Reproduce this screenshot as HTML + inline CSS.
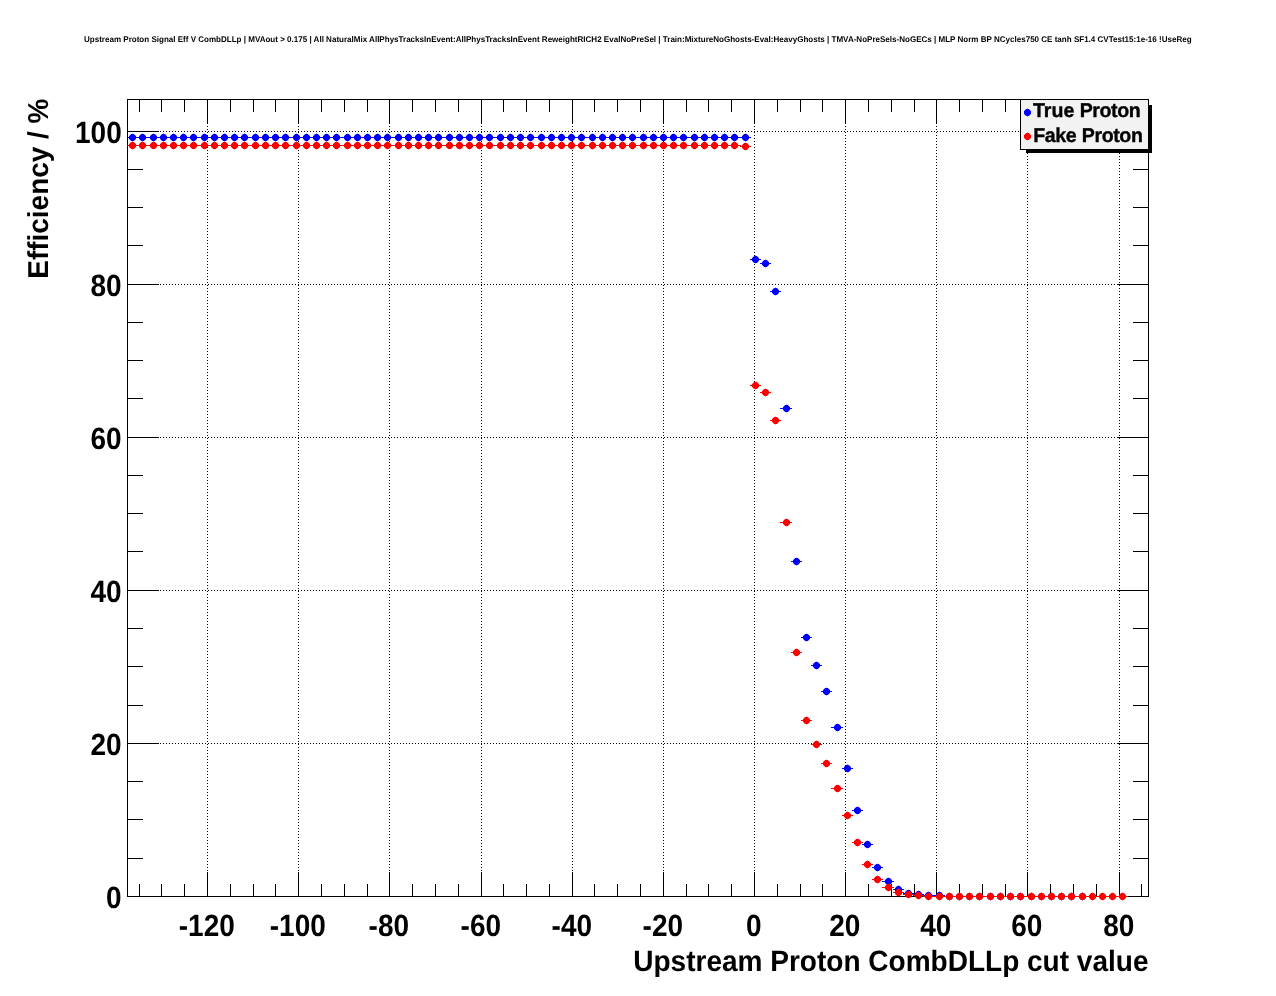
<!DOCTYPE html>
<html lang="en"><head><meta charset="utf-8"><title>Upstream Proton Signal Eff V CombDLLp</title>
<style>html,body{margin:0;padding:0;background:#fff;}body{width:1276px;height:996px;overflow:hidden;}svg{display:block;}text{font-family:"Liberation Sans",Arial,Helvetica,sans-serif;font-weight:bold;fill:#000;text-rendering:geometricPrecision;}</style></head><body>
<svg width="1276" height="996" viewBox="0 0 1276 996">
<rect width="1276" height="996" fill="#fff"/>
<g shape-rendering="crispEdges" stroke="#000" stroke-width="1" stroke-dasharray="1 2" fill="none">
<line x1="207.5" y1="99" x2="207.5" y2="896"/>
<line x1="298.5" y1="99" x2="298.5" y2="896"/>
<line x1="389.5" y1="99" x2="389.5" y2="896"/>
<line x1="481.5" y1="99" x2="481.5" y2="896"/>
<line x1="572.5" y1="99" x2="572.5" y2="896"/>
<line x1="663.5" y1="99" x2="663.5" y2="896"/>
<line x1="754.5" y1="99" x2="754.5" y2="896"/>
<line x1="845.5" y1="99" x2="845.5" y2="896"/>
<line x1="936.5" y1="99" x2="936.5" y2="896"/>
<line x1="1027.5" y1="99" x2="1027.5" y2="896"/>
<line x1="1119.5" y1="99" x2="1119.5" y2="896"/>
<line x1="127" y1="743.5" x2="1149" y2="743.5"/>
<line x1="127" y1="590.5" x2="1149" y2="590.5"/>
<line x1="127" y1="437.5" x2="1149" y2="437.5"/>
<line x1="127" y1="284.5" x2="1149" y2="284.5"/>
<line x1="127" y1="131.5" x2="1149" y2="131.5"/>
</g>
<g shape-rendering="crispEdges" fill="#000">
<rect x="127" y="99" width="1022" height="1" fill="#000"/>
<rect x="127" y="896" width="1022" height="1" fill="#000"/>
<rect x="127" y="99" width="1" height="798" fill="#000"/>
<rect x="1148" y="99" width="1" height="798" fill="#000"/>
<rect x="139" y="884" width="1" height="12" fill="#000"/>
<rect x="139" y="100" width="1" height="12" fill="#000"/>
<rect x="161" y="884" width="1" height="12" fill="#000"/>
<rect x="161" y="100" width="1" height="12" fill="#000"/>
<rect x="184" y="884" width="1" height="12" fill="#000"/>
<rect x="184" y="100" width="1" height="12" fill="#000"/>
<rect x="207" y="872" width="1" height="24" fill="#000"/>
<rect x="207" y="100" width="1" height="24" fill="#000"/>
<rect x="230" y="884" width="1" height="12" fill="#000"/>
<rect x="230" y="100" width="1" height="12" fill="#000"/>
<rect x="253" y="884" width="1" height="12" fill="#000"/>
<rect x="253" y="100" width="1" height="12" fill="#000"/>
<rect x="275" y="884" width="1" height="12" fill="#000"/>
<rect x="275" y="100" width="1" height="12" fill="#000"/>
<rect x="298" y="872" width="1" height="24" fill="#000"/>
<rect x="298" y="100" width="1" height="24" fill="#000"/>
<rect x="321" y="884" width="1" height="12" fill="#000"/>
<rect x="321" y="100" width="1" height="12" fill="#000"/>
<rect x="344" y="884" width="1" height="12" fill="#000"/>
<rect x="344" y="100" width="1" height="12" fill="#000"/>
<rect x="367" y="884" width="1" height="12" fill="#000"/>
<rect x="367" y="100" width="1" height="12" fill="#000"/>
<rect x="389" y="872" width="1" height="24" fill="#000"/>
<rect x="389" y="100" width="1" height="24" fill="#000"/>
<rect x="412" y="884" width="1" height="12" fill="#000"/>
<rect x="412" y="100" width="1" height="12" fill="#000"/>
<rect x="435" y="884" width="1" height="12" fill="#000"/>
<rect x="435" y="100" width="1" height="12" fill="#000"/>
<rect x="458" y="884" width="1" height="12" fill="#000"/>
<rect x="458" y="100" width="1" height="12" fill="#000"/>
<rect x="481" y="872" width="1" height="24" fill="#000"/>
<rect x="481" y="100" width="1" height="24" fill="#000"/>
<rect x="503" y="884" width="1" height="12" fill="#000"/>
<rect x="503" y="100" width="1" height="12" fill="#000"/>
<rect x="526" y="884" width="1" height="12" fill="#000"/>
<rect x="526" y="100" width="1" height="12" fill="#000"/>
<rect x="549" y="884" width="1" height="12" fill="#000"/>
<rect x="549" y="100" width="1" height="12" fill="#000"/>
<rect x="572" y="872" width="1" height="24" fill="#000"/>
<rect x="572" y="100" width="1" height="24" fill="#000"/>
<rect x="594" y="884" width="1" height="12" fill="#000"/>
<rect x="594" y="100" width="1" height="12" fill="#000"/>
<rect x="617" y="884" width="1" height="12" fill="#000"/>
<rect x="617" y="100" width="1" height="12" fill="#000"/>
<rect x="640" y="884" width="1" height="12" fill="#000"/>
<rect x="640" y="100" width="1" height="12" fill="#000"/>
<rect x="663" y="872" width="1" height="24" fill="#000"/>
<rect x="663" y="100" width="1" height="24" fill="#000"/>
<rect x="686" y="884" width="1" height="12" fill="#000"/>
<rect x="686" y="100" width="1" height="12" fill="#000"/>
<rect x="708" y="884" width="1" height="12" fill="#000"/>
<rect x="708" y="100" width="1" height="12" fill="#000"/>
<rect x="731" y="884" width="1" height="12" fill="#000"/>
<rect x="731" y="100" width="1" height="12" fill="#000"/>
<rect x="754" y="872" width="1" height="24" fill="#000"/>
<rect x="754" y="100" width="1" height="24" fill="#000"/>
<rect x="777" y="884" width="1" height="12" fill="#000"/>
<rect x="777" y="100" width="1" height="12" fill="#000"/>
<rect x="800" y="884" width="1" height="12" fill="#000"/>
<rect x="800" y="100" width="1" height="12" fill="#000"/>
<rect x="822" y="884" width="1" height="12" fill="#000"/>
<rect x="822" y="100" width="1" height="12" fill="#000"/>
<rect x="845" y="872" width="1" height="24" fill="#000"/>
<rect x="845" y="100" width="1" height="24" fill="#000"/>
<rect x="868" y="884" width="1" height="12" fill="#000"/>
<rect x="868" y="100" width="1" height="12" fill="#000"/>
<rect x="891" y="884" width="1" height="12" fill="#000"/>
<rect x="891" y="100" width="1" height="12" fill="#000"/>
<rect x="914" y="884" width="1" height="12" fill="#000"/>
<rect x="914" y="100" width="1" height="12" fill="#000"/>
<rect x="936" y="872" width="1" height="24" fill="#000"/>
<rect x="936" y="100" width="1" height="24" fill="#000"/>
<rect x="959" y="884" width="1" height="12" fill="#000"/>
<rect x="959" y="100" width="1" height="12" fill="#000"/>
<rect x="982" y="884" width="1" height="12" fill="#000"/>
<rect x="982" y="100" width="1" height="12" fill="#000"/>
<rect x="1005" y="884" width="1" height="12" fill="#000"/>
<rect x="1005" y="100" width="1" height="12" fill="#000"/>
<rect x="1027" y="872" width="1" height="24" fill="#000"/>
<rect x="1027" y="100" width="1" height="24" fill="#000"/>
<rect x="1050" y="884" width="1" height="12" fill="#000"/>
<rect x="1050" y="100" width="1" height="12" fill="#000"/>
<rect x="1073" y="884" width="1" height="12" fill="#000"/>
<rect x="1073" y="100" width="1" height="12" fill="#000"/>
<rect x="1096" y="884" width="1" height="12" fill="#000"/>
<rect x="1096" y="100" width="1" height="12" fill="#000"/>
<rect x="1119" y="872" width="1" height="24" fill="#000"/>
<rect x="1119" y="100" width="1" height="24" fill="#000"/>
<rect x="1141" y="884" width="1" height="12" fill="#000"/>
<rect x="1141" y="100" width="1" height="12" fill="#000"/>
<rect x="128" y="858" width="15" height="1" fill="#000"/>
<rect x="1133" y="858" width="15" height="1" fill="#000"/>
<rect x="128" y="819" width="15" height="1" fill="#000"/>
<rect x="1133" y="819" width="15" height="1" fill="#000"/>
<rect x="128" y="781" width="15" height="1" fill="#000"/>
<rect x="1133" y="781" width="15" height="1" fill="#000"/>
<rect x="128" y="743" width="31" height="1" fill="#000"/>
<rect x="1117" y="743" width="31" height="1" fill="#000"/>
<rect x="128" y="705" width="15" height="1" fill="#000"/>
<rect x="1133" y="705" width="15" height="1" fill="#000"/>
<rect x="128" y="666" width="15" height="1" fill="#000"/>
<rect x="1133" y="666" width="15" height="1" fill="#000"/>
<rect x="128" y="628" width="15" height="1" fill="#000"/>
<rect x="1133" y="628" width="15" height="1" fill="#000"/>
<rect x="128" y="590" width="31" height="1" fill="#000"/>
<rect x="1117" y="590" width="31" height="1" fill="#000"/>
<rect x="128" y="551" width="15" height="1" fill="#000"/>
<rect x="1133" y="551" width="15" height="1" fill="#000"/>
<rect x="128" y="513" width="15" height="1" fill="#000"/>
<rect x="1133" y="513" width="15" height="1" fill="#000"/>
<rect x="128" y="475" width="15" height="1" fill="#000"/>
<rect x="1133" y="475" width="15" height="1" fill="#000"/>
<rect x="128" y="437" width="31" height="1" fill="#000"/>
<rect x="1117" y="437" width="31" height="1" fill="#000"/>
<rect x="128" y="398" width="15" height="1" fill="#000"/>
<rect x="1133" y="398" width="15" height="1" fill="#000"/>
<rect x="128" y="360" width="15" height="1" fill="#000"/>
<rect x="1133" y="360" width="15" height="1" fill="#000"/>
<rect x="128" y="322" width="15" height="1" fill="#000"/>
<rect x="1133" y="322" width="15" height="1" fill="#000"/>
<rect x="128" y="284" width="31" height="1" fill="#000"/>
<rect x="1117" y="284" width="31" height="1" fill="#000"/>
<rect x="128" y="245" width="15" height="1" fill="#000"/>
<rect x="1133" y="245" width="15" height="1" fill="#000"/>
<rect x="128" y="207" width="15" height="1" fill="#000"/>
<rect x="1133" y="207" width="15" height="1" fill="#000"/>
<rect x="128" y="169" width="15" height="1" fill="#000"/>
<rect x="1133" y="169" width="15" height="1" fill="#000"/>
<rect x="128" y="131" width="31" height="1" fill="#000"/>
<rect x="1117" y="131" width="31" height="1" fill="#000"/>
</g>
<g fill="#0000ff">
<g shape-rendering="crispEdges">
<rect x="128" y="137" width="623" height="1" fill="#0000ff"/>
<rect x="750" y="259" width="11" height="1" fill="#0000ff"/>
<rect x="760" y="263" width="11" height="1" fill="#0000ff"/>
<rect x="770" y="291" width="11" height="1" fill="#0000ff"/>
<rect x="780" y="408" width="12" height="1" fill="#0000ff"/>
<rect x="791" y="561" width="11" height="1" fill="#0000ff"/>
<rect x="801" y="637" width="11" height="1" fill="#0000ff"/>
<rect x="811" y="665" width="11" height="1" fill="#0000ff"/>
<rect x="821" y="691" width="11" height="1" fill="#0000ff"/>
<rect x="831" y="727" width="12" height="1" fill="#0000ff"/>
<rect x="842" y="768" width="11" height="1" fill="#0000ff"/>
<rect x="852" y="810" width="11" height="1" fill="#0000ff"/>
<rect x="862" y="844" width="11" height="1" fill="#0000ff"/>
<rect x="872" y="867" width="11" height="1" fill="#0000ff"/>
<rect x="882" y="881" width="12" height="1" fill="#0000ff"/>
<rect x="893" y="889" width="11" height="1" fill="#0000ff"/>
<rect x="903" y="893" width="11" height="1" fill="#0000ff"/>
<rect x="913" y="894" width="11" height="1" fill="#0000ff"/>
<rect x="923" y="895" width="22" height="1" fill="#0000ff"/>
<rect x="944" y="896" width="144" height="1" fill="#0000ff"/>
</g>
<g shape-rendering="crispEdges" fill="#0000ff"><path d="M131 134h3v1h1v1h1v3h-1v1h-1v1h-3v-1h-1v-1h-1v-3h1v-1h1zM141 134h3v1h1v1h1v3h-1v1h-1v1h-3v-1h-1v-1h-1v-3h1v-1h1zM152 134h3v1h1v1h1v3h-1v1h-1v1h-3v-1h-1v-1h-1v-3h1v-1h1zM162 134h3v1h1v1h1v3h-1v1h-1v1h-3v-1h-1v-1h-1v-3h1v-1h1zM172 134h3v1h1v1h1v3h-1v1h-1v1h-3v-1h-1v-1h-1v-3h1v-1h1zM182 134h3v1h1v1h1v3h-1v1h-1v1h-3v-1h-1v-1h-1v-3h1v-1h1zM192 134h3v1h1v1h1v3h-1v1h-1v1h-3v-1h-1v-1h-1v-3h1v-1h1zM203 134h3v1h1v1h1v3h-1v1h-1v1h-3v-1h-1v-1h-1v-3h1v-1h1zM213 134h3v1h1v1h1v3h-1v1h-1v1h-3v-1h-1v-1h-1v-3h1v-1h1zM223 134h3v1h1v1h1v3h-1v1h-1v1h-3v-1h-1v-1h-1v-3h1v-1h1zM233 134h3v1h1v1h1v3h-1v1h-1v1h-3v-1h-1v-1h-1v-3h1v-1h1zM243 134h3v1h1v1h1v3h-1v1h-1v1h-3v-1h-1v-1h-1v-3h1v-1h1zM254 134h3v1h1v1h1v3h-1v1h-1v1h-3v-1h-1v-1h-1v-3h1v-1h1zM264 134h3v1h1v1h1v3h-1v1h-1v1h-3v-1h-1v-1h-1v-3h1v-1h1zM274 134h3v1h1v1h1v3h-1v1h-1v1h-3v-1h-1v-1h-1v-3h1v-1h1zM284 134h3v1h1v1h1v3h-1v1h-1v1h-3v-1h-1v-1h-1v-3h1v-1h1zM295 134h3v1h1v1h1v3h-1v1h-1v1h-3v-1h-1v-1h-1v-3h1v-1h1zM305 134h3v1h1v1h1v3h-1v1h-1v1h-3v-1h-1v-1h-1v-3h1v-1h1zM315 134h3v1h1v1h1v3h-1v1h-1v1h-3v-1h-1v-1h-1v-3h1v-1h1zM325 134h3v1h1v1h1v3h-1v1h-1v1h-3v-1h-1v-1h-1v-3h1v-1h1zM335 134h3v1h1v1h1v3h-1v1h-1v1h-3v-1h-1v-1h-1v-3h1v-1h1zM346 134h3v1h1v1h1v3h-1v1h-1v1h-3v-1h-1v-1h-1v-3h1v-1h1zM356 134h3v1h1v1h1v3h-1v1h-1v1h-3v-1h-1v-1h-1v-3h1v-1h1zM366 134h3v1h1v1h1v3h-1v1h-1v1h-3v-1h-1v-1h-1v-3h1v-1h1zM376 134h3v1h1v1h1v3h-1v1h-1v1h-3v-1h-1v-1h-1v-3h1v-1h1zM386 134h3v1h1v1h1v3h-1v1h-1v1h-3v-1h-1v-1h-1v-3h1v-1h1zM397 134h3v1h1v1h1v3h-1v1h-1v1h-3v-1h-1v-1h-1v-3h1v-1h1zM407 134h3v1h1v1h1v3h-1v1h-1v1h-3v-1h-1v-1h-1v-3h1v-1h1zM417 134h3v1h1v1h1v3h-1v1h-1v1h-3v-1h-1v-1h-1v-3h1v-1h1zM427 134h3v1h1v1h1v3h-1v1h-1v1h-3v-1h-1v-1h-1v-3h1v-1h1zM437 134h3v1h1v1h1v3h-1v1h-1v1h-3v-1h-1v-1h-1v-3h1v-1h1zM448 134h3v1h1v1h1v3h-1v1h-1v1h-3v-1h-1v-1h-1v-3h1v-1h1zM458 134h3v1h1v1h1v3h-1v1h-1v1h-3v-1h-1v-1h-1v-3h1v-1h1zM468 134h3v1h1v1h1v3h-1v1h-1v1h-3v-1h-1v-1h-1v-3h1v-1h1zM478 134h3v1h1v1h1v3h-1v1h-1v1h-3v-1h-1v-1h-1v-3h1v-1h1zM488 134h3v1h1v1h1v3h-1v1h-1v1h-3v-1h-1v-1h-1v-3h1v-1h1zM499 134h3v1h1v1h1v3h-1v1h-1v1h-3v-1h-1v-1h-1v-3h1v-1h1zM509 134h3v1h1v1h1v3h-1v1h-1v1h-3v-1h-1v-1h-1v-3h1v-1h1zM519 134h3v1h1v1h1v3h-1v1h-1v1h-3v-1h-1v-1h-1v-3h1v-1h1zM529 134h3v1h1v1h1v3h-1v1h-1v1h-3v-1h-1v-1h-1v-3h1v-1h1zM540 134h3v1h1v1h1v3h-1v1h-1v1h-3v-1h-1v-1h-1v-3h1v-1h1zM550 134h3v1h1v1h1v3h-1v1h-1v1h-3v-1h-1v-1h-1v-3h1v-1h1zM560 134h3v1h1v1h1v3h-1v1h-1v1h-3v-1h-1v-1h-1v-3h1v-1h1zM570 134h3v1h1v1h1v3h-1v1h-1v1h-3v-1h-1v-1h-1v-3h1v-1h1zM580 134h3v1h1v1h1v3h-1v1h-1v1h-3v-1h-1v-1h-1v-3h1v-1h1zM591 134h3v1h1v1h1v3h-1v1h-1v1h-3v-1h-1v-1h-1v-3h1v-1h1zM601 134h3v1h1v1h1v3h-1v1h-1v1h-3v-1h-1v-1h-1v-3h1v-1h1zM611 134h3v1h1v1h1v3h-1v1h-1v1h-3v-1h-1v-1h-1v-3h1v-1h1zM621 134h3v1h1v1h1v3h-1v1h-1v1h-3v-1h-1v-1h-1v-3h1v-1h1zM631 134h3v1h1v1h1v3h-1v1h-1v1h-3v-1h-1v-1h-1v-3h1v-1h1zM642 134h3v1h1v1h1v3h-1v1h-1v1h-3v-1h-1v-1h-1v-3h1v-1h1zM652 134h3v1h1v1h1v3h-1v1h-1v1h-3v-1h-1v-1h-1v-3h1v-1h1zM662 134h3v1h1v1h1v3h-1v1h-1v1h-3v-1h-1v-1h-1v-3h1v-1h1zM672 134h3v1h1v1h1v3h-1v1h-1v1h-3v-1h-1v-1h-1v-3h1v-1h1zM682 134h3v1h1v1h1v3h-1v1h-1v1h-3v-1h-1v-1h-1v-3h1v-1h1zM693 134h3v1h1v1h1v3h-1v1h-1v1h-3v-1h-1v-1h-1v-3h1v-1h1zM703 134h3v1h1v1h1v3h-1v1h-1v1h-3v-1h-1v-1h-1v-3h1v-1h1zM713 134h3v1h1v1h1v3h-1v1h-1v1h-3v-1h-1v-1h-1v-3h1v-1h1zM723 134h3v1h1v1h1v3h-1v1h-1v1h-3v-1h-1v-1h-1v-3h1v-1h1zM733 134h3v1h1v1h1v3h-1v1h-1v1h-3v-1h-1v-1h-1v-3h1v-1h1zM744 134h3v1h1v1h1v3h-1v1h-1v1h-3v-1h-1v-1h-1v-3h1v-1h1zM754 256h3v1h1v1h1v3h-1v1h-1v1h-3v-1h-1v-1h-1v-3h1v-1h1zM764 260h3v1h1v1h1v3h-1v1h-1v1h-3v-1h-1v-1h-1v-3h1v-1h1zM774 288h3v1h1v1h1v3h-1v1h-1v1h-3v-1h-1v-1h-1v-3h1v-1h1zM785 405h3v1h1v1h1v3h-1v1h-1v1h-3v-1h-1v-1h-1v-3h1v-1h1zM795 558h3v1h1v1h1v3h-1v1h-1v1h-3v-1h-1v-1h-1v-3h1v-1h1zM805 634h3v1h1v1h1v3h-1v1h-1v1h-3v-1h-1v-1h-1v-3h1v-1h1zM815 662h3v1h1v1h1v3h-1v1h-1v1h-3v-1h-1v-1h-1v-3h1v-1h1zM825 688h3v1h1v1h1v3h-1v1h-1v1h-3v-1h-1v-1h-1v-3h1v-1h1zM836 724h3v1h1v1h1v3h-1v1h-1v1h-3v-1h-1v-1h-1v-3h1v-1h1zM846 765h3v1h1v1h1v3h-1v1h-1v1h-3v-1h-1v-1h-1v-3h1v-1h1zM856 807h3v1h1v1h1v3h-1v1h-1v1h-3v-1h-1v-1h-1v-3h1v-1h1zM866 841h3v1h1v1h1v3h-1v1h-1v1h-3v-1h-1v-1h-1v-3h1v-1h1zM876 864h3v1h1v1h1v3h-1v1h-1v1h-3v-1h-1v-1h-1v-3h1v-1h1zM887 878h3v1h1v1h1v3h-1v1h-1v1h-3v-1h-1v-1h-1v-3h1v-1h1zM897 886h3v1h1v1h1v3h-1v1h-1v1h-3v-1h-1v-1h-1v-3h1v-1h1zM907 890h3v1h1v1h1v3h-1v1h-1v1h-3v-1h-1v-1h-1v-3h1v-1h1zM917 891h3v1h1v1h1v3h-1v1h-1v1h-3v-1h-1v-1h-1v-3h1v-1h1zM927 892h3v1h1v1h1v3h-1v1h-1v1h-3v-1h-1v-1h-1v-3h1v-1h1zM938 892h3v1h1v1h1v3h-1v1h-1v1h-3v-1h-1v-1h-1v-3h1v-1h1zM948 893h3v1h1v1h1v3h-1v1h-1v1h-3v-1h-1v-1h-1v-3h1v-1h1zM958 893h3v1h1v1h1v3h-1v1h-1v1h-3v-1h-1v-1h-1v-3h1v-1h1zM968 893h3v1h1v1h1v3h-1v1h-1v1h-3v-1h-1v-1h-1v-3h1v-1h1zM978 893h3v1h1v1h1v3h-1v1h-1v1h-3v-1h-1v-1h-1v-3h1v-1h1zM989 893h3v1h1v1h1v3h-1v1h-1v1h-3v-1h-1v-1h-1v-3h1v-1h1zM999 893h3v1h1v1h1v3h-1v1h-1v1h-3v-1h-1v-1h-1v-3h1v-1h1zM1009 893h3v1h1v1h1v3h-1v1h-1v1h-3v-1h-1v-1h-1v-3h1v-1h1zM1019 893h3v1h1v1h1v3h-1v1h-1v1h-3v-1h-1v-1h-1v-3h1v-1h1zM1030 893h3v1h1v1h1v3h-1v1h-1v1h-3v-1h-1v-1h-1v-3h1v-1h1zM1040 893h3v1h1v1h1v3h-1v1h-1v1h-3v-1h-1v-1h-1v-3h1v-1h1zM1050 893h3v1h1v1h1v3h-1v1h-1v1h-3v-1h-1v-1h-1v-3h1v-1h1zM1060 893h3v1h1v1h1v3h-1v1h-1v1h-3v-1h-1v-1h-1v-3h1v-1h1zM1070 893h3v1h1v1h1v3h-1v1h-1v1h-3v-1h-1v-1h-1v-3h1v-1h1zM1081 893h3v1h1v1h1v3h-1v1h-1v1h-3v-1h-1v-1h-1v-3h1v-1h1z"/><path fill-opacity="0.36" d="M134 134h1v1h-1zM135 135h1v1h-1zM130 134h1v1h-1zM129 135h1v1h-1zM134 140h1v1h-1zM135 139h1v1h-1zM130 140h1v1h-1zM129 139h1v1h-1zM144 134h1v1h-1zM145 135h1v1h-1zM140 134h1v1h-1zM139 135h1v1h-1zM144 140h1v1h-1zM145 139h1v1h-1zM140 140h1v1h-1zM139 139h1v1h-1zM155 134h1v1h-1zM156 135h1v1h-1zM151 134h1v1h-1zM150 135h1v1h-1zM155 140h1v1h-1zM156 139h1v1h-1zM151 140h1v1h-1zM150 139h1v1h-1zM165 134h1v1h-1zM166 135h1v1h-1zM161 134h1v1h-1zM160 135h1v1h-1zM165 140h1v1h-1zM166 139h1v1h-1zM161 140h1v1h-1zM160 139h1v1h-1zM175 134h1v1h-1zM176 135h1v1h-1zM171 134h1v1h-1zM170 135h1v1h-1zM175 140h1v1h-1zM176 139h1v1h-1zM171 140h1v1h-1zM170 139h1v1h-1zM185 134h1v1h-1zM186 135h1v1h-1zM181 134h1v1h-1zM180 135h1v1h-1zM185 140h1v1h-1zM186 139h1v1h-1zM181 140h1v1h-1zM180 139h1v1h-1zM195 134h1v1h-1zM196 135h1v1h-1zM191 134h1v1h-1zM190 135h1v1h-1zM195 140h1v1h-1zM196 139h1v1h-1zM191 140h1v1h-1zM190 139h1v1h-1zM206 134h1v1h-1zM207 135h1v1h-1zM202 134h1v1h-1zM201 135h1v1h-1zM206 140h1v1h-1zM207 139h1v1h-1zM202 140h1v1h-1zM201 139h1v1h-1zM216 134h1v1h-1zM217 135h1v1h-1zM212 134h1v1h-1zM211 135h1v1h-1zM216 140h1v1h-1zM217 139h1v1h-1zM212 140h1v1h-1zM211 139h1v1h-1zM226 134h1v1h-1zM227 135h1v1h-1zM222 134h1v1h-1zM221 135h1v1h-1zM226 140h1v1h-1zM227 139h1v1h-1zM222 140h1v1h-1zM221 139h1v1h-1zM236 134h1v1h-1zM237 135h1v1h-1zM232 134h1v1h-1zM231 135h1v1h-1zM236 140h1v1h-1zM237 139h1v1h-1zM232 140h1v1h-1zM231 139h1v1h-1zM246 134h1v1h-1zM247 135h1v1h-1zM242 134h1v1h-1zM241 135h1v1h-1zM246 140h1v1h-1zM247 139h1v1h-1zM242 140h1v1h-1zM241 139h1v1h-1zM257 134h1v1h-1zM258 135h1v1h-1zM253 134h1v1h-1zM252 135h1v1h-1zM257 140h1v1h-1zM258 139h1v1h-1zM253 140h1v1h-1zM252 139h1v1h-1zM267 134h1v1h-1zM268 135h1v1h-1zM263 134h1v1h-1zM262 135h1v1h-1zM267 140h1v1h-1zM268 139h1v1h-1zM263 140h1v1h-1zM262 139h1v1h-1zM277 134h1v1h-1zM278 135h1v1h-1zM273 134h1v1h-1zM272 135h1v1h-1zM277 140h1v1h-1zM278 139h1v1h-1zM273 140h1v1h-1zM272 139h1v1h-1zM287 134h1v1h-1zM288 135h1v1h-1zM283 134h1v1h-1zM282 135h1v1h-1zM287 140h1v1h-1zM288 139h1v1h-1zM283 140h1v1h-1zM282 139h1v1h-1zM298 134h1v1h-1zM299 135h1v1h-1zM294 134h1v1h-1zM293 135h1v1h-1zM298 140h1v1h-1zM299 139h1v1h-1zM294 140h1v1h-1zM293 139h1v1h-1zM308 134h1v1h-1zM309 135h1v1h-1zM304 134h1v1h-1zM303 135h1v1h-1zM308 140h1v1h-1zM309 139h1v1h-1zM304 140h1v1h-1zM303 139h1v1h-1zM318 134h1v1h-1zM319 135h1v1h-1zM314 134h1v1h-1zM313 135h1v1h-1zM318 140h1v1h-1zM319 139h1v1h-1zM314 140h1v1h-1zM313 139h1v1h-1zM328 134h1v1h-1zM329 135h1v1h-1zM324 134h1v1h-1zM323 135h1v1h-1zM328 140h1v1h-1zM329 139h1v1h-1zM324 140h1v1h-1zM323 139h1v1h-1zM338 134h1v1h-1zM339 135h1v1h-1zM334 134h1v1h-1zM333 135h1v1h-1zM338 140h1v1h-1zM339 139h1v1h-1zM334 140h1v1h-1zM333 139h1v1h-1zM349 134h1v1h-1zM350 135h1v1h-1zM345 134h1v1h-1zM344 135h1v1h-1zM349 140h1v1h-1zM350 139h1v1h-1zM345 140h1v1h-1zM344 139h1v1h-1zM359 134h1v1h-1zM360 135h1v1h-1zM355 134h1v1h-1zM354 135h1v1h-1zM359 140h1v1h-1zM360 139h1v1h-1zM355 140h1v1h-1zM354 139h1v1h-1zM369 134h1v1h-1zM370 135h1v1h-1zM365 134h1v1h-1zM364 135h1v1h-1zM369 140h1v1h-1zM370 139h1v1h-1zM365 140h1v1h-1zM364 139h1v1h-1zM379 134h1v1h-1zM380 135h1v1h-1zM375 134h1v1h-1zM374 135h1v1h-1zM379 140h1v1h-1zM380 139h1v1h-1zM375 140h1v1h-1zM374 139h1v1h-1zM389 134h1v1h-1zM390 135h1v1h-1zM385 134h1v1h-1zM384 135h1v1h-1zM389 140h1v1h-1zM390 139h1v1h-1zM385 140h1v1h-1zM384 139h1v1h-1zM400 134h1v1h-1zM401 135h1v1h-1zM396 134h1v1h-1zM395 135h1v1h-1zM400 140h1v1h-1zM401 139h1v1h-1zM396 140h1v1h-1zM395 139h1v1h-1zM410 134h1v1h-1zM411 135h1v1h-1zM406 134h1v1h-1zM405 135h1v1h-1zM410 140h1v1h-1zM411 139h1v1h-1zM406 140h1v1h-1zM405 139h1v1h-1zM420 134h1v1h-1zM421 135h1v1h-1zM416 134h1v1h-1zM415 135h1v1h-1zM420 140h1v1h-1zM421 139h1v1h-1zM416 140h1v1h-1zM415 139h1v1h-1zM430 134h1v1h-1zM431 135h1v1h-1zM426 134h1v1h-1zM425 135h1v1h-1zM430 140h1v1h-1zM431 139h1v1h-1zM426 140h1v1h-1zM425 139h1v1h-1zM440 134h1v1h-1zM441 135h1v1h-1zM436 134h1v1h-1zM435 135h1v1h-1zM440 140h1v1h-1zM441 139h1v1h-1zM436 140h1v1h-1zM435 139h1v1h-1zM451 134h1v1h-1zM452 135h1v1h-1zM447 134h1v1h-1zM446 135h1v1h-1zM451 140h1v1h-1zM452 139h1v1h-1zM447 140h1v1h-1zM446 139h1v1h-1zM461 134h1v1h-1zM462 135h1v1h-1zM457 134h1v1h-1zM456 135h1v1h-1zM461 140h1v1h-1zM462 139h1v1h-1zM457 140h1v1h-1zM456 139h1v1h-1zM471 134h1v1h-1zM472 135h1v1h-1zM467 134h1v1h-1zM466 135h1v1h-1zM471 140h1v1h-1zM472 139h1v1h-1zM467 140h1v1h-1zM466 139h1v1h-1zM481 134h1v1h-1zM482 135h1v1h-1zM477 134h1v1h-1zM476 135h1v1h-1zM481 140h1v1h-1zM482 139h1v1h-1zM477 140h1v1h-1zM476 139h1v1h-1zM491 134h1v1h-1zM492 135h1v1h-1zM487 134h1v1h-1zM486 135h1v1h-1zM491 140h1v1h-1zM492 139h1v1h-1zM487 140h1v1h-1zM486 139h1v1h-1zM502 134h1v1h-1zM503 135h1v1h-1zM498 134h1v1h-1zM497 135h1v1h-1zM502 140h1v1h-1zM503 139h1v1h-1zM498 140h1v1h-1zM497 139h1v1h-1zM512 134h1v1h-1zM513 135h1v1h-1zM508 134h1v1h-1zM507 135h1v1h-1zM512 140h1v1h-1zM513 139h1v1h-1zM508 140h1v1h-1zM507 139h1v1h-1zM522 134h1v1h-1zM523 135h1v1h-1zM518 134h1v1h-1zM517 135h1v1h-1zM522 140h1v1h-1zM523 139h1v1h-1zM518 140h1v1h-1zM517 139h1v1h-1zM532 134h1v1h-1zM533 135h1v1h-1zM528 134h1v1h-1zM527 135h1v1h-1zM532 140h1v1h-1zM533 139h1v1h-1zM528 140h1v1h-1zM527 139h1v1h-1zM543 134h1v1h-1zM544 135h1v1h-1zM539 134h1v1h-1zM538 135h1v1h-1zM543 140h1v1h-1zM544 139h1v1h-1zM539 140h1v1h-1zM538 139h1v1h-1zM553 134h1v1h-1zM554 135h1v1h-1zM549 134h1v1h-1zM548 135h1v1h-1zM553 140h1v1h-1zM554 139h1v1h-1zM549 140h1v1h-1zM548 139h1v1h-1zM563 134h1v1h-1zM564 135h1v1h-1zM559 134h1v1h-1zM558 135h1v1h-1zM563 140h1v1h-1zM564 139h1v1h-1zM559 140h1v1h-1zM558 139h1v1h-1zM573 134h1v1h-1zM574 135h1v1h-1zM569 134h1v1h-1zM568 135h1v1h-1zM573 140h1v1h-1zM574 139h1v1h-1zM569 140h1v1h-1zM568 139h1v1h-1zM583 134h1v1h-1zM584 135h1v1h-1zM579 134h1v1h-1zM578 135h1v1h-1zM583 140h1v1h-1zM584 139h1v1h-1zM579 140h1v1h-1zM578 139h1v1h-1zM594 134h1v1h-1zM595 135h1v1h-1zM590 134h1v1h-1zM589 135h1v1h-1zM594 140h1v1h-1zM595 139h1v1h-1zM590 140h1v1h-1zM589 139h1v1h-1zM604 134h1v1h-1zM605 135h1v1h-1zM600 134h1v1h-1zM599 135h1v1h-1zM604 140h1v1h-1zM605 139h1v1h-1zM600 140h1v1h-1zM599 139h1v1h-1zM614 134h1v1h-1zM615 135h1v1h-1zM610 134h1v1h-1zM609 135h1v1h-1zM614 140h1v1h-1zM615 139h1v1h-1zM610 140h1v1h-1zM609 139h1v1h-1zM624 134h1v1h-1zM625 135h1v1h-1zM620 134h1v1h-1zM619 135h1v1h-1zM624 140h1v1h-1zM625 139h1v1h-1zM620 140h1v1h-1zM619 139h1v1h-1zM634 134h1v1h-1zM635 135h1v1h-1zM630 134h1v1h-1zM629 135h1v1h-1zM634 140h1v1h-1zM635 139h1v1h-1zM630 140h1v1h-1zM629 139h1v1h-1zM645 134h1v1h-1zM646 135h1v1h-1zM641 134h1v1h-1zM640 135h1v1h-1zM645 140h1v1h-1zM646 139h1v1h-1zM641 140h1v1h-1zM640 139h1v1h-1zM655 134h1v1h-1zM656 135h1v1h-1zM651 134h1v1h-1zM650 135h1v1h-1zM655 140h1v1h-1zM656 139h1v1h-1zM651 140h1v1h-1zM650 139h1v1h-1zM665 134h1v1h-1zM666 135h1v1h-1zM661 134h1v1h-1zM660 135h1v1h-1zM665 140h1v1h-1zM666 139h1v1h-1zM661 140h1v1h-1zM660 139h1v1h-1zM675 134h1v1h-1zM676 135h1v1h-1zM671 134h1v1h-1zM670 135h1v1h-1zM675 140h1v1h-1zM676 139h1v1h-1zM671 140h1v1h-1zM670 139h1v1h-1zM685 134h1v1h-1zM686 135h1v1h-1zM681 134h1v1h-1zM680 135h1v1h-1zM685 140h1v1h-1zM686 139h1v1h-1zM681 140h1v1h-1zM680 139h1v1h-1zM696 134h1v1h-1zM697 135h1v1h-1zM692 134h1v1h-1zM691 135h1v1h-1zM696 140h1v1h-1zM697 139h1v1h-1zM692 140h1v1h-1zM691 139h1v1h-1zM706 134h1v1h-1zM707 135h1v1h-1zM702 134h1v1h-1zM701 135h1v1h-1zM706 140h1v1h-1zM707 139h1v1h-1zM702 140h1v1h-1zM701 139h1v1h-1zM716 134h1v1h-1zM717 135h1v1h-1zM712 134h1v1h-1zM711 135h1v1h-1zM716 140h1v1h-1zM717 139h1v1h-1zM712 140h1v1h-1zM711 139h1v1h-1zM726 134h1v1h-1zM727 135h1v1h-1zM722 134h1v1h-1zM721 135h1v1h-1zM726 140h1v1h-1zM727 139h1v1h-1zM722 140h1v1h-1zM721 139h1v1h-1zM736 134h1v1h-1zM737 135h1v1h-1zM732 134h1v1h-1zM731 135h1v1h-1zM736 140h1v1h-1zM737 139h1v1h-1zM732 140h1v1h-1zM731 139h1v1h-1zM747 134h1v1h-1zM748 135h1v1h-1zM743 134h1v1h-1zM742 135h1v1h-1zM747 140h1v1h-1zM748 139h1v1h-1zM743 140h1v1h-1zM742 139h1v1h-1zM757 256h1v1h-1zM758 257h1v1h-1zM753 256h1v1h-1zM752 257h1v1h-1zM757 262h1v1h-1zM758 261h1v1h-1zM753 262h1v1h-1zM752 261h1v1h-1zM767 260h1v1h-1zM768 261h1v1h-1zM763 260h1v1h-1zM762 261h1v1h-1zM767 266h1v1h-1zM768 265h1v1h-1zM763 266h1v1h-1zM762 265h1v1h-1zM777 288h1v1h-1zM778 289h1v1h-1zM773 288h1v1h-1zM772 289h1v1h-1zM777 294h1v1h-1zM778 293h1v1h-1zM773 294h1v1h-1zM772 293h1v1h-1zM788 405h1v1h-1zM789 406h1v1h-1zM784 405h1v1h-1zM783 406h1v1h-1zM788 411h1v1h-1zM789 410h1v1h-1zM784 411h1v1h-1zM783 410h1v1h-1zM798 558h1v1h-1zM799 559h1v1h-1zM794 558h1v1h-1zM793 559h1v1h-1zM798 564h1v1h-1zM799 563h1v1h-1zM794 564h1v1h-1zM793 563h1v1h-1zM808 634h1v1h-1zM809 635h1v1h-1zM804 634h1v1h-1zM803 635h1v1h-1zM808 640h1v1h-1zM809 639h1v1h-1zM804 640h1v1h-1zM803 639h1v1h-1zM818 662h1v1h-1zM819 663h1v1h-1zM814 662h1v1h-1zM813 663h1v1h-1zM818 668h1v1h-1zM819 667h1v1h-1zM814 668h1v1h-1zM813 667h1v1h-1zM828 688h1v1h-1zM829 689h1v1h-1zM824 688h1v1h-1zM823 689h1v1h-1zM828 694h1v1h-1zM829 693h1v1h-1zM824 694h1v1h-1zM823 693h1v1h-1zM839 724h1v1h-1zM840 725h1v1h-1zM835 724h1v1h-1zM834 725h1v1h-1zM839 730h1v1h-1zM840 729h1v1h-1zM835 730h1v1h-1zM834 729h1v1h-1zM849 765h1v1h-1zM850 766h1v1h-1zM845 765h1v1h-1zM844 766h1v1h-1zM849 771h1v1h-1zM850 770h1v1h-1zM845 771h1v1h-1zM844 770h1v1h-1zM859 807h1v1h-1zM860 808h1v1h-1zM855 807h1v1h-1zM854 808h1v1h-1zM859 813h1v1h-1zM860 812h1v1h-1zM855 813h1v1h-1zM854 812h1v1h-1zM869 841h1v1h-1zM870 842h1v1h-1zM865 841h1v1h-1zM864 842h1v1h-1zM869 847h1v1h-1zM870 846h1v1h-1zM865 847h1v1h-1zM864 846h1v1h-1zM879 864h1v1h-1zM880 865h1v1h-1zM875 864h1v1h-1zM874 865h1v1h-1zM879 870h1v1h-1zM880 869h1v1h-1zM875 870h1v1h-1zM874 869h1v1h-1zM890 878h1v1h-1zM891 879h1v1h-1zM886 878h1v1h-1zM885 879h1v1h-1zM890 884h1v1h-1zM891 883h1v1h-1zM886 884h1v1h-1zM885 883h1v1h-1zM900 886h1v1h-1zM901 887h1v1h-1zM896 886h1v1h-1zM895 887h1v1h-1zM900 892h1v1h-1zM901 891h1v1h-1zM896 892h1v1h-1zM895 891h1v1h-1zM910 890h1v1h-1zM911 891h1v1h-1zM906 890h1v1h-1zM905 891h1v1h-1zM910 896h1v1h-1zM911 895h1v1h-1zM906 896h1v1h-1zM905 895h1v1h-1zM920 891h1v1h-1zM921 892h1v1h-1zM916 891h1v1h-1zM915 892h1v1h-1zM920 897h1v1h-1zM921 896h1v1h-1zM916 897h1v1h-1zM915 896h1v1h-1zM930 892h1v1h-1zM931 893h1v1h-1zM926 892h1v1h-1zM925 893h1v1h-1zM930 898h1v1h-1zM931 897h1v1h-1zM926 898h1v1h-1zM925 897h1v1h-1zM941 892h1v1h-1zM942 893h1v1h-1zM937 892h1v1h-1zM936 893h1v1h-1zM941 898h1v1h-1zM942 897h1v1h-1zM937 898h1v1h-1zM936 897h1v1h-1zM951 893h1v1h-1zM952 894h1v1h-1zM947 893h1v1h-1zM946 894h1v1h-1zM951 899h1v1h-1zM952 898h1v1h-1zM947 899h1v1h-1zM946 898h1v1h-1zM961 893h1v1h-1zM962 894h1v1h-1zM957 893h1v1h-1zM956 894h1v1h-1zM961 899h1v1h-1zM962 898h1v1h-1zM957 899h1v1h-1zM956 898h1v1h-1zM971 893h1v1h-1zM972 894h1v1h-1zM967 893h1v1h-1zM966 894h1v1h-1zM971 899h1v1h-1zM972 898h1v1h-1zM967 899h1v1h-1zM966 898h1v1h-1zM981 893h1v1h-1zM982 894h1v1h-1zM977 893h1v1h-1zM976 894h1v1h-1zM981 899h1v1h-1zM982 898h1v1h-1zM977 899h1v1h-1zM976 898h1v1h-1zM992 893h1v1h-1zM993 894h1v1h-1zM988 893h1v1h-1zM987 894h1v1h-1zM992 899h1v1h-1zM993 898h1v1h-1zM988 899h1v1h-1zM987 898h1v1h-1zM1002 893h1v1h-1zM1003 894h1v1h-1zM998 893h1v1h-1zM997 894h1v1h-1zM1002 899h1v1h-1zM1003 898h1v1h-1zM998 899h1v1h-1zM997 898h1v1h-1zM1012 893h1v1h-1zM1013 894h1v1h-1zM1008 893h1v1h-1zM1007 894h1v1h-1zM1012 899h1v1h-1zM1013 898h1v1h-1zM1008 899h1v1h-1zM1007 898h1v1h-1zM1022 893h1v1h-1zM1023 894h1v1h-1zM1018 893h1v1h-1zM1017 894h1v1h-1zM1022 899h1v1h-1zM1023 898h1v1h-1zM1018 899h1v1h-1zM1017 898h1v1h-1zM1033 893h1v1h-1zM1034 894h1v1h-1zM1029 893h1v1h-1zM1028 894h1v1h-1zM1033 899h1v1h-1zM1034 898h1v1h-1zM1029 899h1v1h-1zM1028 898h1v1h-1zM1043 893h1v1h-1zM1044 894h1v1h-1zM1039 893h1v1h-1zM1038 894h1v1h-1zM1043 899h1v1h-1zM1044 898h1v1h-1zM1039 899h1v1h-1zM1038 898h1v1h-1zM1053 893h1v1h-1zM1054 894h1v1h-1zM1049 893h1v1h-1zM1048 894h1v1h-1zM1053 899h1v1h-1zM1054 898h1v1h-1zM1049 899h1v1h-1zM1048 898h1v1h-1zM1063 893h1v1h-1zM1064 894h1v1h-1zM1059 893h1v1h-1zM1058 894h1v1h-1zM1063 899h1v1h-1zM1064 898h1v1h-1zM1059 899h1v1h-1zM1058 898h1v1h-1zM1073 893h1v1h-1zM1074 894h1v1h-1zM1069 893h1v1h-1zM1068 894h1v1h-1zM1073 899h1v1h-1zM1074 898h1v1h-1zM1069 899h1v1h-1zM1068 898h1v1h-1zM1084 893h1v1h-1zM1085 894h1v1h-1zM1080 893h1v1h-1zM1079 894h1v1h-1zM1084 899h1v1h-1zM1085 898h1v1h-1zM1080 899h1v1h-1zM1079 898h1v1h-1z"/><path fill-opacity="0.3" d="M132 133h1v1h-1zM132 141h1v1h-1zM142 133h1v1h-1zM142 141h1v1h-1zM153 133h1v1h-1zM153 141h1v1h-1zM163 133h1v1h-1zM163 141h1v1h-1zM173 133h1v1h-1zM173 141h1v1h-1zM183 133h1v1h-1zM183 141h1v1h-1zM193 133h1v1h-1zM193 141h1v1h-1zM204 133h1v1h-1zM204 141h1v1h-1zM214 133h1v1h-1zM214 141h1v1h-1zM224 133h1v1h-1zM224 141h1v1h-1zM234 133h1v1h-1zM234 141h1v1h-1zM244 133h1v1h-1zM244 141h1v1h-1zM255 133h1v1h-1zM255 141h1v1h-1zM265 133h1v1h-1zM265 141h1v1h-1zM275 133h1v1h-1zM275 141h1v1h-1zM285 133h1v1h-1zM285 141h1v1h-1zM296 133h1v1h-1zM296 141h1v1h-1zM306 133h1v1h-1zM306 141h1v1h-1zM316 133h1v1h-1zM316 141h1v1h-1zM326 133h1v1h-1zM326 141h1v1h-1zM336 133h1v1h-1zM336 141h1v1h-1zM347 133h1v1h-1zM347 141h1v1h-1zM357 133h1v1h-1zM357 141h1v1h-1zM367 133h1v1h-1zM367 141h1v1h-1zM377 133h1v1h-1zM377 141h1v1h-1zM387 133h1v1h-1zM387 141h1v1h-1zM398 133h1v1h-1zM398 141h1v1h-1zM408 133h1v1h-1zM408 141h1v1h-1zM418 133h1v1h-1zM418 141h1v1h-1zM428 133h1v1h-1zM428 141h1v1h-1zM438 133h1v1h-1zM438 141h1v1h-1zM449 133h1v1h-1zM449 141h1v1h-1zM459 133h1v1h-1zM459 141h1v1h-1zM469 133h1v1h-1zM469 141h1v1h-1zM479 133h1v1h-1zM479 141h1v1h-1zM489 133h1v1h-1zM489 141h1v1h-1zM500 133h1v1h-1zM500 141h1v1h-1zM510 133h1v1h-1zM510 141h1v1h-1zM520 133h1v1h-1zM520 141h1v1h-1zM530 133h1v1h-1zM530 141h1v1h-1zM541 133h1v1h-1zM541 141h1v1h-1zM551 133h1v1h-1zM551 141h1v1h-1zM561 133h1v1h-1zM561 141h1v1h-1zM571 133h1v1h-1zM571 141h1v1h-1zM581 133h1v1h-1zM581 141h1v1h-1zM592 133h1v1h-1zM592 141h1v1h-1zM602 133h1v1h-1zM602 141h1v1h-1zM612 133h1v1h-1zM612 141h1v1h-1zM622 133h1v1h-1zM622 141h1v1h-1zM632 133h1v1h-1zM632 141h1v1h-1zM643 133h1v1h-1zM643 141h1v1h-1zM653 133h1v1h-1zM653 141h1v1h-1zM663 133h1v1h-1zM663 141h1v1h-1zM673 133h1v1h-1zM673 141h1v1h-1zM683 133h1v1h-1zM683 141h1v1h-1zM694 133h1v1h-1zM694 141h1v1h-1zM704 133h1v1h-1zM704 141h1v1h-1zM714 133h1v1h-1zM714 141h1v1h-1zM724 133h1v1h-1zM724 141h1v1h-1zM734 133h1v1h-1zM734 141h1v1h-1zM745 133h1v1h-1zM745 141h1v1h-1zM755 255h1v1h-1zM755 263h1v1h-1zM765 259h1v1h-1zM765 267h1v1h-1zM775 287h1v1h-1zM775 295h1v1h-1zM786 404h1v1h-1zM786 412h1v1h-1zM796 557h1v1h-1zM796 565h1v1h-1zM806 633h1v1h-1zM806 641h1v1h-1zM816 661h1v1h-1zM816 669h1v1h-1zM826 687h1v1h-1zM826 695h1v1h-1zM837 723h1v1h-1zM837 731h1v1h-1zM847 764h1v1h-1zM847 772h1v1h-1zM857 806h1v1h-1zM857 814h1v1h-1zM867 840h1v1h-1zM867 848h1v1h-1zM877 863h1v1h-1zM877 871h1v1h-1zM888 877h1v1h-1zM888 885h1v1h-1zM898 885h1v1h-1zM898 893h1v1h-1zM908 889h1v1h-1zM908 897h1v1h-1zM918 890h1v1h-1zM918 898h1v1h-1zM928 891h1v1h-1zM928 899h1v1h-1zM939 891h1v1h-1zM939 899h1v1h-1zM949 892h1v1h-1zM949 900h1v1h-1zM959 892h1v1h-1zM959 900h1v1h-1zM969 892h1v1h-1zM969 900h1v1h-1zM979 892h1v1h-1zM979 900h1v1h-1zM990 892h1v1h-1zM990 900h1v1h-1zM1000 892h1v1h-1zM1000 900h1v1h-1zM1010 892h1v1h-1zM1010 900h1v1h-1zM1020 892h1v1h-1zM1020 900h1v1h-1zM1031 892h1v1h-1zM1031 900h1v1h-1zM1041 892h1v1h-1zM1041 900h1v1h-1zM1051 892h1v1h-1zM1051 900h1v1h-1zM1061 892h1v1h-1zM1061 900h1v1h-1zM1071 892h1v1h-1zM1071 900h1v1h-1zM1082 892h1v1h-1zM1082 900h1v1h-1z"/></g>
</g>
<g fill="#ff0000">
<g shape-rendering="crispEdges">
<rect x="127" y="145" width="614" height="1" fill="#ff0000"/>
<rect x="740" y="146" width="11" height="1" fill="#ff0000"/>
<rect x="750" y="385" width="11" height="1" fill="#ff0000"/>
<rect x="760" y="392" width="11" height="1" fill="#ff0000"/>
<rect x="770" y="420" width="11" height="1" fill="#ff0000"/>
<rect x="780" y="522" width="12" height="1" fill="#ff0000"/>
<rect x="791" y="652" width="11" height="1" fill="#ff0000"/>
<rect x="801" y="720" width="11" height="1" fill="#ff0000"/>
<rect x="811" y="744" width="11" height="1" fill="#ff0000"/>
<rect x="821" y="763" width="11" height="1" fill="#ff0000"/>
<rect x="831" y="788" width="12" height="1" fill="#ff0000"/>
<rect x="842" y="815" width="11" height="1" fill="#ff0000"/>
<rect x="852" y="842" width="11" height="1" fill="#ff0000"/>
<rect x="862" y="864" width="11" height="1" fill="#ff0000"/>
<rect x="872" y="879" width="11" height="1" fill="#ff0000"/>
<rect x="882" y="887" width="12" height="1" fill="#ff0000"/>
<rect x="893" y="892" width="11" height="1" fill="#ff0000"/>
<rect x="903" y="894" width="11" height="1" fill="#ff0000"/>
<rect x="913" y="895" width="11" height="1" fill="#ff0000"/>
<rect x="923" y="896" width="205" height="1" fill="#ff0000"/>
</g>
<g shape-rendering="crispEdges" fill="#ff0000"><path d="M131 142h3v1h1v1h1v3h-1v1h-1v1h-3v-1h-1v-1h-1v-3h1v-1h1zM141 142h3v1h1v1h1v3h-1v1h-1v1h-3v-1h-1v-1h-1v-3h1v-1h1zM152 142h3v1h1v1h1v3h-1v1h-1v1h-3v-1h-1v-1h-1v-3h1v-1h1zM162 142h3v1h1v1h1v3h-1v1h-1v1h-3v-1h-1v-1h-1v-3h1v-1h1zM172 142h3v1h1v1h1v3h-1v1h-1v1h-3v-1h-1v-1h-1v-3h1v-1h1zM182 142h3v1h1v1h1v3h-1v1h-1v1h-3v-1h-1v-1h-1v-3h1v-1h1zM192 142h3v1h1v1h1v3h-1v1h-1v1h-3v-1h-1v-1h-1v-3h1v-1h1zM203 142h3v1h1v1h1v3h-1v1h-1v1h-3v-1h-1v-1h-1v-3h1v-1h1zM213 142h3v1h1v1h1v3h-1v1h-1v1h-3v-1h-1v-1h-1v-3h1v-1h1zM223 142h3v1h1v1h1v3h-1v1h-1v1h-3v-1h-1v-1h-1v-3h1v-1h1zM233 142h3v1h1v1h1v3h-1v1h-1v1h-3v-1h-1v-1h-1v-3h1v-1h1zM243 142h3v1h1v1h1v3h-1v1h-1v1h-3v-1h-1v-1h-1v-3h1v-1h1zM254 142h3v1h1v1h1v3h-1v1h-1v1h-3v-1h-1v-1h-1v-3h1v-1h1zM264 142h3v1h1v1h1v3h-1v1h-1v1h-3v-1h-1v-1h-1v-3h1v-1h1zM274 142h3v1h1v1h1v3h-1v1h-1v1h-3v-1h-1v-1h-1v-3h1v-1h1zM284 142h3v1h1v1h1v3h-1v1h-1v1h-3v-1h-1v-1h-1v-3h1v-1h1zM295 142h3v1h1v1h1v3h-1v1h-1v1h-3v-1h-1v-1h-1v-3h1v-1h1zM305 142h3v1h1v1h1v3h-1v1h-1v1h-3v-1h-1v-1h-1v-3h1v-1h1zM315 142h3v1h1v1h1v3h-1v1h-1v1h-3v-1h-1v-1h-1v-3h1v-1h1zM325 142h3v1h1v1h1v3h-1v1h-1v1h-3v-1h-1v-1h-1v-3h1v-1h1zM335 142h3v1h1v1h1v3h-1v1h-1v1h-3v-1h-1v-1h-1v-3h1v-1h1zM346 142h3v1h1v1h1v3h-1v1h-1v1h-3v-1h-1v-1h-1v-3h1v-1h1zM356 142h3v1h1v1h1v3h-1v1h-1v1h-3v-1h-1v-1h-1v-3h1v-1h1zM366 142h3v1h1v1h1v3h-1v1h-1v1h-3v-1h-1v-1h-1v-3h1v-1h1zM376 142h3v1h1v1h1v3h-1v1h-1v1h-3v-1h-1v-1h-1v-3h1v-1h1zM386 142h3v1h1v1h1v3h-1v1h-1v1h-3v-1h-1v-1h-1v-3h1v-1h1zM397 142h3v1h1v1h1v3h-1v1h-1v1h-3v-1h-1v-1h-1v-3h1v-1h1zM407 142h3v1h1v1h1v3h-1v1h-1v1h-3v-1h-1v-1h-1v-3h1v-1h1zM417 142h3v1h1v1h1v3h-1v1h-1v1h-3v-1h-1v-1h-1v-3h1v-1h1zM427 142h3v1h1v1h1v3h-1v1h-1v1h-3v-1h-1v-1h-1v-3h1v-1h1zM437 142h3v1h1v1h1v3h-1v1h-1v1h-3v-1h-1v-1h-1v-3h1v-1h1zM448 142h3v1h1v1h1v3h-1v1h-1v1h-3v-1h-1v-1h-1v-3h1v-1h1zM458 142h3v1h1v1h1v3h-1v1h-1v1h-3v-1h-1v-1h-1v-3h1v-1h1zM468 142h3v1h1v1h1v3h-1v1h-1v1h-3v-1h-1v-1h-1v-3h1v-1h1zM478 142h3v1h1v1h1v3h-1v1h-1v1h-3v-1h-1v-1h-1v-3h1v-1h1zM488 142h3v1h1v1h1v3h-1v1h-1v1h-3v-1h-1v-1h-1v-3h1v-1h1zM499 142h3v1h1v1h1v3h-1v1h-1v1h-3v-1h-1v-1h-1v-3h1v-1h1zM509 142h3v1h1v1h1v3h-1v1h-1v1h-3v-1h-1v-1h-1v-3h1v-1h1zM519 142h3v1h1v1h1v3h-1v1h-1v1h-3v-1h-1v-1h-1v-3h1v-1h1zM529 142h3v1h1v1h1v3h-1v1h-1v1h-3v-1h-1v-1h-1v-3h1v-1h1zM540 142h3v1h1v1h1v3h-1v1h-1v1h-3v-1h-1v-1h-1v-3h1v-1h1zM550 142h3v1h1v1h1v3h-1v1h-1v1h-3v-1h-1v-1h-1v-3h1v-1h1zM560 142h3v1h1v1h1v3h-1v1h-1v1h-3v-1h-1v-1h-1v-3h1v-1h1zM570 142h3v1h1v1h1v3h-1v1h-1v1h-3v-1h-1v-1h-1v-3h1v-1h1zM580 142h3v1h1v1h1v3h-1v1h-1v1h-3v-1h-1v-1h-1v-3h1v-1h1zM591 142h3v1h1v1h1v3h-1v1h-1v1h-3v-1h-1v-1h-1v-3h1v-1h1zM601 142h3v1h1v1h1v3h-1v1h-1v1h-3v-1h-1v-1h-1v-3h1v-1h1zM611 142h3v1h1v1h1v3h-1v1h-1v1h-3v-1h-1v-1h-1v-3h1v-1h1zM621 142h3v1h1v1h1v3h-1v1h-1v1h-3v-1h-1v-1h-1v-3h1v-1h1zM631 142h3v1h1v1h1v3h-1v1h-1v1h-3v-1h-1v-1h-1v-3h1v-1h1zM642 142h3v1h1v1h1v3h-1v1h-1v1h-3v-1h-1v-1h-1v-3h1v-1h1zM652 142h3v1h1v1h1v3h-1v1h-1v1h-3v-1h-1v-1h-1v-3h1v-1h1zM662 142h3v1h1v1h1v3h-1v1h-1v1h-3v-1h-1v-1h-1v-3h1v-1h1zM672 142h3v1h1v1h1v3h-1v1h-1v1h-3v-1h-1v-1h-1v-3h1v-1h1zM682 142h3v1h1v1h1v3h-1v1h-1v1h-3v-1h-1v-1h-1v-3h1v-1h1zM693 142h3v1h1v1h1v3h-1v1h-1v1h-3v-1h-1v-1h-1v-3h1v-1h1zM703 142h3v1h1v1h1v3h-1v1h-1v1h-3v-1h-1v-1h-1v-3h1v-1h1zM713 142h3v1h1v1h1v3h-1v1h-1v1h-3v-1h-1v-1h-1v-3h1v-1h1zM723 142h3v1h1v1h1v3h-1v1h-1v1h-3v-1h-1v-1h-1v-3h1v-1h1zM733 142h3v1h1v1h1v3h-1v1h-1v1h-3v-1h-1v-1h-1v-3h1v-1h1zM744 143h3v1h1v1h1v3h-1v1h-1v1h-3v-1h-1v-1h-1v-3h1v-1h1zM754 382h3v1h1v1h1v3h-1v1h-1v1h-3v-1h-1v-1h-1v-3h1v-1h1zM764 389h3v1h1v1h1v3h-1v1h-1v1h-3v-1h-1v-1h-1v-3h1v-1h1zM774 417h3v1h1v1h1v3h-1v1h-1v1h-3v-1h-1v-1h-1v-3h1v-1h1zM785 519h3v1h1v1h1v3h-1v1h-1v1h-3v-1h-1v-1h-1v-3h1v-1h1zM795 649h3v1h1v1h1v3h-1v1h-1v1h-3v-1h-1v-1h-1v-3h1v-1h1zM805 717h3v1h1v1h1v3h-1v1h-1v1h-3v-1h-1v-1h-1v-3h1v-1h1zM815 741h3v1h1v1h1v3h-1v1h-1v1h-3v-1h-1v-1h-1v-3h1v-1h1zM825 760h3v1h1v1h1v3h-1v1h-1v1h-3v-1h-1v-1h-1v-3h1v-1h1zM836 785h3v1h1v1h1v3h-1v1h-1v1h-3v-1h-1v-1h-1v-3h1v-1h1zM846 812h3v1h1v1h1v3h-1v1h-1v1h-3v-1h-1v-1h-1v-3h1v-1h1zM856 839h3v1h1v1h1v3h-1v1h-1v1h-3v-1h-1v-1h-1v-3h1v-1h1zM866 861h3v1h1v1h1v3h-1v1h-1v1h-3v-1h-1v-1h-1v-3h1v-1h1zM876 876h3v1h1v1h1v3h-1v1h-1v1h-3v-1h-1v-1h-1v-3h1v-1h1zM887 884h3v1h1v1h1v3h-1v1h-1v1h-3v-1h-1v-1h-1v-3h1v-1h1zM897 889h3v1h1v1h1v3h-1v1h-1v1h-3v-1h-1v-1h-1v-3h1v-1h1zM907 891h3v1h1v1h1v3h-1v1h-1v1h-3v-1h-1v-1h-1v-3h1v-1h1zM917 892h3v1h1v1h1v3h-1v1h-1v1h-3v-1h-1v-1h-1v-3h1v-1h1zM927 893h3v1h1v1h1v3h-1v1h-1v1h-3v-1h-1v-1h-1v-3h1v-1h1zM938 893h3v1h1v1h1v3h-1v1h-1v1h-3v-1h-1v-1h-1v-3h1v-1h1zM948 893h3v1h1v1h1v3h-1v1h-1v1h-3v-1h-1v-1h-1v-3h1v-1h1zM958 893h3v1h1v1h1v3h-1v1h-1v1h-3v-1h-1v-1h-1v-3h1v-1h1zM968 893h3v1h1v1h1v3h-1v1h-1v1h-3v-1h-1v-1h-1v-3h1v-1h1zM978 893h3v1h1v1h1v3h-1v1h-1v1h-3v-1h-1v-1h-1v-3h1v-1h1zM989 893h3v1h1v1h1v3h-1v1h-1v1h-3v-1h-1v-1h-1v-3h1v-1h1zM999 893h3v1h1v1h1v3h-1v1h-1v1h-3v-1h-1v-1h-1v-3h1v-1h1zM1009 893h3v1h1v1h1v3h-1v1h-1v1h-3v-1h-1v-1h-1v-3h1v-1h1zM1019 893h3v1h1v1h1v3h-1v1h-1v1h-3v-1h-1v-1h-1v-3h1v-1h1zM1030 893h3v1h1v1h1v3h-1v1h-1v1h-3v-1h-1v-1h-1v-3h1v-1h1zM1040 893h3v1h1v1h1v3h-1v1h-1v1h-3v-1h-1v-1h-1v-3h1v-1h1zM1050 893h3v1h1v1h1v3h-1v1h-1v1h-3v-1h-1v-1h-1v-3h1v-1h1zM1060 893h3v1h1v1h1v3h-1v1h-1v1h-3v-1h-1v-1h-1v-3h1v-1h1zM1070 893h3v1h1v1h1v3h-1v1h-1v1h-3v-1h-1v-1h-1v-3h1v-1h1zM1081 893h3v1h1v1h1v3h-1v1h-1v1h-3v-1h-1v-1h-1v-3h1v-1h1zM1091 893h3v1h1v1h1v3h-1v1h-1v1h-3v-1h-1v-1h-1v-3h1v-1h1zM1101 893h3v1h1v1h1v3h-1v1h-1v1h-3v-1h-1v-1h-1v-3h1v-1h1zM1111 893h3v1h1v1h1v3h-1v1h-1v1h-3v-1h-1v-1h-1v-3h1v-1h1zM1121 893h3v1h1v1h1v3h-1v1h-1v1h-3v-1h-1v-1h-1v-3h1v-1h1z"/><path fill-opacity="0.36" d="M134 142h1v1h-1zM135 143h1v1h-1zM130 142h1v1h-1zM129 143h1v1h-1zM134 148h1v1h-1zM135 147h1v1h-1zM130 148h1v1h-1zM129 147h1v1h-1zM144 142h1v1h-1zM145 143h1v1h-1zM140 142h1v1h-1zM139 143h1v1h-1zM144 148h1v1h-1zM145 147h1v1h-1zM140 148h1v1h-1zM139 147h1v1h-1zM155 142h1v1h-1zM156 143h1v1h-1zM151 142h1v1h-1zM150 143h1v1h-1zM155 148h1v1h-1zM156 147h1v1h-1zM151 148h1v1h-1zM150 147h1v1h-1zM165 142h1v1h-1zM166 143h1v1h-1zM161 142h1v1h-1zM160 143h1v1h-1zM165 148h1v1h-1zM166 147h1v1h-1zM161 148h1v1h-1zM160 147h1v1h-1zM175 142h1v1h-1zM176 143h1v1h-1zM171 142h1v1h-1zM170 143h1v1h-1zM175 148h1v1h-1zM176 147h1v1h-1zM171 148h1v1h-1zM170 147h1v1h-1zM185 142h1v1h-1zM186 143h1v1h-1zM181 142h1v1h-1zM180 143h1v1h-1zM185 148h1v1h-1zM186 147h1v1h-1zM181 148h1v1h-1zM180 147h1v1h-1zM195 142h1v1h-1zM196 143h1v1h-1zM191 142h1v1h-1zM190 143h1v1h-1zM195 148h1v1h-1zM196 147h1v1h-1zM191 148h1v1h-1zM190 147h1v1h-1zM206 142h1v1h-1zM207 143h1v1h-1zM202 142h1v1h-1zM201 143h1v1h-1zM206 148h1v1h-1zM207 147h1v1h-1zM202 148h1v1h-1zM201 147h1v1h-1zM216 142h1v1h-1zM217 143h1v1h-1zM212 142h1v1h-1zM211 143h1v1h-1zM216 148h1v1h-1zM217 147h1v1h-1zM212 148h1v1h-1zM211 147h1v1h-1zM226 142h1v1h-1zM227 143h1v1h-1zM222 142h1v1h-1zM221 143h1v1h-1zM226 148h1v1h-1zM227 147h1v1h-1zM222 148h1v1h-1zM221 147h1v1h-1zM236 142h1v1h-1zM237 143h1v1h-1zM232 142h1v1h-1zM231 143h1v1h-1zM236 148h1v1h-1zM237 147h1v1h-1zM232 148h1v1h-1zM231 147h1v1h-1zM246 142h1v1h-1zM247 143h1v1h-1zM242 142h1v1h-1zM241 143h1v1h-1zM246 148h1v1h-1zM247 147h1v1h-1zM242 148h1v1h-1zM241 147h1v1h-1zM257 142h1v1h-1zM258 143h1v1h-1zM253 142h1v1h-1zM252 143h1v1h-1zM257 148h1v1h-1zM258 147h1v1h-1zM253 148h1v1h-1zM252 147h1v1h-1zM267 142h1v1h-1zM268 143h1v1h-1zM263 142h1v1h-1zM262 143h1v1h-1zM267 148h1v1h-1zM268 147h1v1h-1zM263 148h1v1h-1zM262 147h1v1h-1zM277 142h1v1h-1zM278 143h1v1h-1zM273 142h1v1h-1zM272 143h1v1h-1zM277 148h1v1h-1zM278 147h1v1h-1zM273 148h1v1h-1zM272 147h1v1h-1zM287 142h1v1h-1zM288 143h1v1h-1zM283 142h1v1h-1zM282 143h1v1h-1zM287 148h1v1h-1zM288 147h1v1h-1zM283 148h1v1h-1zM282 147h1v1h-1zM298 142h1v1h-1zM299 143h1v1h-1zM294 142h1v1h-1zM293 143h1v1h-1zM298 148h1v1h-1zM299 147h1v1h-1zM294 148h1v1h-1zM293 147h1v1h-1zM308 142h1v1h-1zM309 143h1v1h-1zM304 142h1v1h-1zM303 143h1v1h-1zM308 148h1v1h-1zM309 147h1v1h-1zM304 148h1v1h-1zM303 147h1v1h-1zM318 142h1v1h-1zM319 143h1v1h-1zM314 142h1v1h-1zM313 143h1v1h-1zM318 148h1v1h-1zM319 147h1v1h-1zM314 148h1v1h-1zM313 147h1v1h-1zM328 142h1v1h-1zM329 143h1v1h-1zM324 142h1v1h-1zM323 143h1v1h-1zM328 148h1v1h-1zM329 147h1v1h-1zM324 148h1v1h-1zM323 147h1v1h-1zM338 142h1v1h-1zM339 143h1v1h-1zM334 142h1v1h-1zM333 143h1v1h-1zM338 148h1v1h-1zM339 147h1v1h-1zM334 148h1v1h-1zM333 147h1v1h-1zM349 142h1v1h-1zM350 143h1v1h-1zM345 142h1v1h-1zM344 143h1v1h-1zM349 148h1v1h-1zM350 147h1v1h-1zM345 148h1v1h-1zM344 147h1v1h-1zM359 142h1v1h-1zM360 143h1v1h-1zM355 142h1v1h-1zM354 143h1v1h-1zM359 148h1v1h-1zM360 147h1v1h-1zM355 148h1v1h-1zM354 147h1v1h-1zM369 142h1v1h-1zM370 143h1v1h-1zM365 142h1v1h-1zM364 143h1v1h-1zM369 148h1v1h-1zM370 147h1v1h-1zM365 148h1v1h-1zM364 147h1v1h-1zM379 142h1v1h-1zM380 143h1v1h-1zM375 142h1v1h-1zM374 143h1v1h-1zM379 148h1v1h-1zM380 147h1v1h-1zM375 148h1v1h-1zM374 147h1v1h-1zM389 142h1v1h-1zM390 143h1v1h-1zM385 142h1v1h-1zM384 143h1v1h-1zM389 148h1v1h-1zM390 147h1v1h-1zM385 148h1v1h-1zM384 147h1v1h-1zM400 142h1v1h-1zM401 143h1v1h-1zM396 142h1v1h-1zM395 143h1v1h-1zM400 148h1v1h-1zM401 147h1v1h-1zM396 148h1v1h-1zM395 147h1v1h-1zM410 142h1v1h-1zM411 143h1v1h-1zM406 142h1v1h-1zM405 143h1v1h-1zM410 148h1v1h-1zM411 147h1v1h-1zM406 148h1v1h-1zM405 147h1v1h-1zM420 142h1v1h-1zM421 143h1v1h-1zM416 142h1v1h-1zM415 143h1v1h-1zM420 148h1v1h-1zM421 147h1v1h-1zM416 148h1v1h-1zM415 147h1v1h-1zM430 142h1v1h-1zM431 143h1v1h-1zM426 142h1v1h-1zM425 143h1v1h-1zM430 148h1v1h-1zM431 147h1v1h-1zM426 148h1v1h-1zM425 147h1v1h-1zM440 142h1v1h-1zM441 143h1v1h-1zM436 142h1v1h-1zM435 143h1v1h-1zM440 148h1v1h-1zM441 147h1v1h-1zM436 148h1v1h-1zM435 147h1v1h-1zM451 142h1v1h-1zM452 143h1v1h-1zM447 142h1v1h-1zM446 143h1v1h-1zM451 148h1v1h-1zM452 147h1v1h-1zM447 148h1v1h-1zM446 147h1v1h-1zM461 142h1v1h-1zM462 143h1v1h-1zM457 142h1v1h-1zM456 143h1v1h-1zM461 148h1v1h-1zM462 147h1v1h-1zM457 148h1v1h-1zM456 147h1v1h-1zM471 142h1v1h-1zM472 143h1v1h-1zM467 142h1v1h-1zM466 143h1v1h-1zM471 148h1v1h-1zM472 147h1v1h-1zM467 148h1v1h-1zM466 147h1v1h-1zM481 142h1v1h-1zM482 143h1v1h-1zM477 142h1v1h-1zM476 143h1v1h-1zM481 148h1v1h-1zM482 147h1v1h-1zM477 148h1v1h-1zM476 147h1v1h-1zM491 142h1v1h-1zM492 143h1v1h-1zM487 142h1v1h-1zM486 143h1v1h-1zM491 148h1v1h-1zM492 147h1v1h-1zM487 148h1v1h-1zM486 147h1v1h-1zM502 142h1v1h-1zM503 143h1v1h-1zM498 142h1v1h-1zM497 143h1v1h-1zM502 148h1v1h-1zM503 147h1v1h-1zM498 148h1v1h-1zM497 147h1v1h-1zM512 142h1v1h-1zM513 143h1v1h-1zM508 142h1v1h-1zM507 143h1v1h-1zM512 148h1v1h-1zM513 147h1v1h-1zM508 148h1v1h-1zM507 147h1v1h-1zM522 142h1v1h-1zM523 143h1v1h-1zM518 142h1v1h-1zM517 143h1v1h-1zM522 148h1v1h-1zM523 147h1v1h-1zM518 148h1v1h-1zM517 147h1v1h-1zM532 142h1v1h-1zM533 143h1v1h-1zM528 142h1v1h-1zM527 143h1v1h-1zM532 148h1v1h-1zM533 147h1v1h-1zM528 148h1v1h-1zM527 147h1v1h-1zM543 142h1v1h-1zM544 143h1v1h-1zM539 142h1v1h-1zM538 143h1v1h-1zM543 148h1v1h-1zM544 147h1v1h-1zM539 148h1v1h-1zM538 147h1v1h-1zM553 142h1v1h-1zM554 143h1v1h-1zM549 142h1v1h-1zM548 143h1v1h-1zM553 148h1v1h-1zM554 147h1v1h-1zM549 148h1v1h-1zM548 147h1v1h-1zM563 142h1v1h-1zM564 143h1v1h-1zM559 142h1v1h-1zM558 143h1v1h-1zM563 148h1v1h-1zM564 147h1v1h-1zM559 148h1v1h-1zM558 147h1v1h-1zM573 142h1v1h-1zM574 143h1v1h-1zM569 142h1v1h-1zM568 143h1v1h-1zM573 148h1v1h-1zM574 147h1v1h-1zM569 148h1v1h-1zM568 147h1v1h-1zM583 142h1v1h-1zM584 143h1v1h-1zM579 142h1v1h-1zM578 143h1v1h-1zM583 148h1v1h-1zM584 147h1v1h-1zM579 148h1v1h-1zM578 147h1v1h-1zM594 142h1v1h-1zM595 143h1v1h-1zM590 142h1v1h-1zM589 143h1v1h-1zM594 148h1v1h-1zM595 147h1v1h-1zM590 148h1v1h-1zM589 147h1v1h-1zM604 142h1v1h-1zM605 143h1v1h-1zM600 142h1v1h-1zM599 143h1v1h-1zM604 148h1v1h-1zM605 147h1v1h-1zM600 148h1v1h-1zM599 147h1v1h-1zM614 142h1v1h-1zM615 143h1v1h-1zM610 142h1v1h-1zM609 143h1v1h-1zM614 148h1v1h-1zM615 147h1v1h-1zM610 148h1v1h-1zM609 147h1v1h-1zM624 142h1v1h-1zM625 143h1v1h-1zM620 142h1v1h-1zM619 143h1v1h-1zM624 148h1v1h-1zM625 147h1v1h-1zM620 148h1v1h-1zM619 147h1v1h-1zM634 142h1v1h-1zM635 143h1v1h-1zM630 142h1v1h-1zM629 143h1v1h-1zM634 148h1v1h-1zM635 147h1v1h-1zM630 148h1v1h-1zM629 147h1v1h-1zM645 142h1v1h-1zM646 143h1v1h-1zM641 142h1v1h-1zM640 143h1v1h-1zM645 148h1v1h-1zM646 147h1v1h-1zM641 148h1v1h-1zM640 147h1v1h-1zM655 142h1v1h-1zM656 143h1v1h-1zM651 142h1v1h-1zM650 143h1v1h-1zM655 148h1v1h-1zM656 147h1v1h-1zM651 148h1v1h-1zM650 147h1v1h-1zM665 142h1v1h-1zM666 143h1v1h-1zM661 142h1v1h-1zM660 143h1v1h-1zM665 148h1v1h-1zM666 147h1v1h-1zM661 148h1v1h-1zM660 147h1v1h-1zM675 142h1v1h-1zM676 143h1v1h-1zM671 142h1v1h-1zM670 143h1v1h-1zM675 148h1v1h-1zM676 147h1v1h-1zM671 148h1v1h-1zM670 147h1v1h-1zM685 142h1v1h-1zM686 143h1v1h-1zM681 142h1v1h-1zM680 143h1v1h-1zM685 148h1v1h-1zM686 147h1v1h-1zM681 148h1v1h-1zM680 147h1v1h-1zM696 142h1v1h-1zM697 143h1v1h-1zM692 142h1v1h-1zM691 143h1v1h-1zM696 148h1v1h-1zM697 147h1v1h-1zM692 148h1v1h-1zM691 147h1v1h-1zM706 142h1v1h-1zM707 143h1v1h-1zM702 142h1v1h-1zM701 143h1v1h-1zM706 148h1v1h-1zM707 147h1v1h-1zM702 148h1v1h-1zM701 147h1v1h-1zM716 142h1v1h-1zM717 143h1v1h-1zM712 142h1v1h-1zM711 143h1v1h-1zM716 148h1v1h-1zM717 147h1v1h-1zM712 148h1v1h-1zM711 147h1v1h-1zM726 142h1v1h-1zM727 143h1v1h-1zM722 142h1v1h-1zM721 143h1v1h-1zM726 148h1v1h-1zM727 147h1v1h-1zM722 148h1v1h-1zM721 147h1v1h-1zM736 142h1v1h-1zM737 143h1v1h-1zM732 142h1v1h-1zM731 143h1v1h-1zM736 148h1v1h-1zM737 147h1v1h-1zM732 148h1v1h-1zM731 147h1v1h-1zM747 143h1v1h-1zM748 144h1v1h-1zM743 143h1v1h-1zM742 144h1v1h-1zM747 149h1v1h-1zM748 148h1v1h-1zM743 149h1v1h-1zM742 148h1v1h-1zM757 382h1v1h-1zM758 383h1v1h-1zM753 382h1v1h-1zM752 383h1v1h-1zM757 388h1v1h-1zM758 387h1v1h-1zM753 388h1v1h-1zM752 387h1v1h-1zM767 389h1v1h-1zM768 390h1v1h-1zM763 389h1v1h-1zM762 390h1v1h-1zM767 395h1v1h-1zM768 394h1v1h-1zM763 395h1v1h-1zM762 394h1v1h-1zM777 417h1v1h-1zM778 418h1v1h-1zM773 417h1v1h-1zM772 418h1v1h-1zM777 423h1v1h-1zM778 422h1v1h-1zM773 423h1v1h-1zM772 422h1v1h-1zM788 519h1v1h-1zM789 520h1v1h-1zM784 519h1v1h-1zM783 520h1v1h-1zM788 525h1v1h-1zM789 524h1v1h-1zM784 525h1v1h-1zM783 524h1v1h-1zM798 649h1v1h-1zM799 650h1v1h-1zM794 649h1v1h-1zM793 650h1v1h-1zM798 655h1v1h-1zM799 654h1v1h-1zM794 655h1v1h-1zM793 654h1v1h-1zM808 717h1v1h-1zM809 718h1v1h-1zM804 717h1v1h-1zM803 718h1v1h-1zM808 723h1v1h-1zM809 722h1v1h-1zM804 723h1v1h-1zM803 722h1v1h-1zM818 741h1v1h-1zM819 742h1v1h-1zM814 741h1v1h-1zM813 742h1v1h-1zM818 747h1v1h-1zM819 746h1v1h-1zM814 747h1v1h-1zM813 746h1v1h-1zM828 760h1v1h-1zM829 761h1v1h-1zM824 760h1v1h-1zM823 761h1v1h-1zM828 766h1v1h-1zM829 765h1v1h-1zM824 766h1v1h-1zM823 765h1v1h-1zM839 785h1v1h-1zM840 786h1v1h-1zM835 785h1v1h-1zM834 786h1v1h-1zM839 791h1v1h-1zM840 790h1v1h-1zM835 791h1v1h-1zM834 790h1v1h-1zM849 812h1v1h-1zM850 813h1v1h-1zM845 812h1v1h-1zM844 813h1v1h-1zM849 818h1v1h-1zM850 817h1v1h-1zM845 818h1v1h-1zM844 817h1v1h-1zM859 839h1v1h-1zM860 840h1v1h-1zM855 839h1v1h-1zM854 840h1v1h-1zM859 845h1v1h-1zM860 844h1v1h-1zM855 845h1v1h-1zM854 844h1v1h-1zM869 861h1v1h-1zM870 862h1v1h-1zM865 861h1v1h-1zM864 862h1v1h-1zM869 867h1v1h-1zM870 866h1v1h-1zM865 867h1v1h-1zM864 866h1v1h-1zM879 876h1v1h-1zM880 877h1v1h-1zM875 876h1v1h-1zM874 877h1v1h-1zM879 882h1v1h-1zM880 881h1v1h-1zM875 882h1v1h-1zM874 881h1v1h-1zM890 884h1v1h-1zM891 885h1v1h-1zM886 884h1v1h-1zM885 885h1v1h-1zM890 890h1v1h-1zM891 889h1v1h-1zM886 890h1v1h-1zM885 889h1v1h-1zM900 889h1v1h-1zM901 890h1v1h-1zM896 889h1v1h-1zM895 890h1v1h-1zM900 895h1v1h-1zM901 894h1v1h-1zM896 895h1v1h-1zM895 894h1v1h-1zM910 891h1v1h-1zM911 892h1v1h-1zM906 891h1v1h-1zM905 892h1v1h-1zM910 897h1v1h-1zM911 896h1v1h-1zM906 897h1v1h-1zM905 896h1v1h-1zM920 892h1v1h-1zM921 893h1v1h-1zM916 892h1v1h-1zM915 893h1v1h-1zM920 898h1v1h-1zM921 897h1v1h-1zM916 898h1v1h-1zM915 897h1v1h-1zM930 893h1v1h-1zM931 894h1v1h-1zM926 893h1v1h-1zM925 894h1v1h-1zM930 899h1v1h-1zM931 898h1v1h-1zM926 899h1v1h-1zM925 898h1v1h-1zM941 893h1v1h-1zM942 894h1v1h-1zM937 893h1v1h-1zM936 894h1v1h-1zM941 899h1v1h-1zM942 898h1v1h-1zM937 899h1v1h-1zM936 898h1v1h-1zM951 893h1v1h-1zM952 894h1v1h-1zM947 893h1v1h-1zM946 894h1v1h-1zM951 899h1v1h-1zM952 898h1v1h-1zM947 899h1v1h-1zM946 898h1v1h-1zM961 893h1v1h-1zM962 894h1v1h-1zM957 893h1v1h-1zM956 894h1v1h-1zM961 899h1v1h-1zM962 898h1v1h-1zM957 899h1v1h-1zM956 898h1v1h-1zM971 893h1v1h-1zM972 894h1v1h-1zM967 893h1v1h-1zM966 894h1v1h-1zM971 899h1v1h-1zM972 898h1v1h-1zM967 899h1v1h-1zM966 898h1v1h-1zM981 893h1v1h-1zM982 894h1v1h-1zM977 893h1v1h-1zM976 894h1v1h-1zM981 899h1v1h-1zM982 898h1v1h-1zM977 899h1v1h-1zM976 898h1v1h-1zM992 893h1v1h-1zM993 894h1v1h-1zM988 893h1v1h-1zM987 894h1v1h-1zM992 899h1v1h-1zM993 898h1v1h-1zM988 899h1v1h-1zM987 898h1v1h-1zM1002 893h1v1h-1zM1003 894h1v1h-1zM998 893h1v1h-1zM997 894h1v1h-1zM1002 899h1v1h-1zM1003 898h1v1h-1zM998 899h1v1h-1zM997 898h1v1h-1zM1012 893h1v1h-1zM1013 894h1v1h-1zM1008 893h1v1h-1zM1007 894h1v1h-1zM1012 899h1v1h-1zM1013 898h1v1h-1zM1008 899h1v1h-1zM1007 898h1v1h-1zM1022 893h1v1h-1zM1023 894h1v1h-1zM1018 893h1v1h-1zM1017 894h1v1h-1zM1022 899h1v1h-1zM1023 898h1v1h-1zM1018 899h1v1h-1zM1017 898h1v1h-1zM1033 893h1v1h-1zM1034 894h1v1h-1zM1029 893h1v1h-1zM1028 894h1v1h-1zM1033 899h1v1h-1zM1034 898h1v1h-1zM1029 899h1v1h-1zM1028 898h1v1h-1zM1043 893h1v1h-1zM1044 894h1v1h-1zM1039 893h1v1h-1zM1038 894h1v1h-1zM1043 899h1v1h-1zM1044 898h1v1h-1zM1039 899h1v1h-1zM1038 898h1v1h-1zM1053 893h1v1h-1zM1054 894h1v1h-1zM1049 893h1v1h-1zM1048 894h1v1h-1zM1053 899h1v1h-1zM1054 898h1v1h-1zM1049 899h1v1h-1zM1048 898h1v1h-1zM1063 893h1v1h-1zM1064 894h1v1h-1zM1059 893h1v1h-1zM1058 894h1v1h-1zM1063 899h1v1h-1zM1064 898h1v1h-1zM1059 899h1v1h-1zM1058 898h1v1h-1zM1073 893h1v1h-1zM1074 894h1v1h-1zM1069 893h1v1h-1zM1068 894h1v1h-1zM1073 899h1v1h-1zM1074 898h1v1h-1zM1069 899h1v1h-1zM1068 898h1v1h-1zM1084 893h1v1h-1zM1085 894h1v1h-1zM1080 893h1v1h-1zM1079 894h1v1h-1zM1084 899h1v1h-1zM1085 898h1v1h-1zM1080 899h1v1h-1zM1079 898h1v1h-1zM1094 893h1v1h-1zM1095 894h1v1h-1zM1090 893h1v1h-1zM1089 894h1v1h-1zM1094 899h1v1h-1zM1095 898h1v1h-1zM1090 899h1v1h-1zM1089 898h1v1h-1zM1104 893h1v1h-1zM1105 894h1v1h-1zM1100 893h1v1h-1zM1099 894h1v1h-1zM1104 899h1v1h-1zM1105 898h1v1h-1zM1100 899h1v1h-1zM1099 898h1v1h-1zM1114 893h1v1h-1zM1115 894h1v1h-1zM1110 893h1v1h-1zM1109 894h1v1h-1zM1114 899h1v1h-1zM1115 898h1v1h-1zM1110 899h1v1h-1zM1109 898h1v1h-1zM1124 893h1v1h-1zM1125 894h1v1h-1zM1120 893h1v1h-1zM1119 894h1v1h-1zM1124 899h1v1h-1zM1125 898h1v1h-1zM1120 899h1v1h-1zM1119 898h1v1h-1z"/><path fill-opacity="0.3" d="M132 141h1v1h-1zM132 149h1v1h-1zM142 141h1v1h-1zM142 149h1v1h-1zM153 141h1v1h-1zM153 149h1v1h-1zM163 141h1v1h-1zM163 149h1v1h-1zM173 141h1v1h-1zM173 149h1v1h-1zM183 141h1v1h-1zM183 149h1v1h-1zM193 141h1v1h-1zM193 149h1v1h-1zM204 141h1v1h-1zM204 149h1v1h-1zM214 141h1v1h-1zM214 149h1v1h-1zM224 141h1v1h-1zM224 149h1v1h-1zM234 141h1v1h-1zM234 149h1v1h-1zM244 141h1v1h-1zM244 149h1v1h-1zM255 141h1v1h-1zM255 149h1v1h-1zM265 141h1v1h-1zM265 149h1v1h-1zM275 141h1v1h-1zM275 149h1v1h-1zM285 141h1v1h-1zM285 149h1v1h-1zM296 141h1v1h-1zM296 149h1v1h-1zM306 141h1v1h-1zM306 149h1v1h-1zM316 141h1v1h-1zM316 149h1v1h-1zM326 141h1v1h-1zM326 149h1v1h-1zM336 141h1v1h-1zM336 149h1v1h-1zM347 141h1v1h-1zM347 149h1v1h-1zM357 141h1v1h-1zM357 149h1v1h-1zM367 141h1v1h-1zM367 149h1v1h-1zM377 141h1v1h-1zM377 149h1v1h-1zM387 141h1v1h-1zM387 149h1v1h-1zM398 141h1v1h-1zM398 149h1v1h-1zM408 141h1v1h-1zM408 149h1v1h-1zM418 141h1v1h-1zM418 149h1v1h-1zM428 141h1v1h-1zM428 149h1v1h-1zM438 141h1v1h-1zM438 149h1v1h-1zM449 141h1v1h-1zM449 149h1v1h-1zM459 141h1v1h-1zM459 149h1v1h-1zM469 141h1v1h-1zM469 149h1v1h-1zM479 141h1v1h-1zM479 149h1v1h-1zM489 141h1v1h-1zM489 149h1v1h-1zM500 141h1v1h-1zM500 149h1v1h-1zM510 141h1v1h-1zM510 149h1v1h-1zM520 141h1v1h-1zM520 149h1v1h-1zM530 141h1v1h-1zM530 149h1v1h-1zM541 141h1v1h-1zM541 149h1v1h-1zM551 141h1v1h-1zM551 149h1v1h-1zM561 141h1v1h-1zM561 149h1v1h-1zM571 141h1v1h-1zM571 149h1v1h-1zM581 141h1v1h-1zM581 149h1v1h-1zM592 141h1v1h-1zM592 149h1v1h-1zM602 141h1v1h-1zM602 149h1v1h-1zM612 141h1v1h-1zM612 149h1v1h-1zM622 141h1v1h-1zM622 149h1v1h-1zM632 141h1v1h-1zM632 149h1v1h-1zM643 141h1v1h-1zM643 149h1v1h-1zM653 141h1v1h-1zM653 149h1v1h-1zM663 141h1v1h-1zM663 149h1v1h-1zM673 141h1v1h-1zM673 149h1v1h-1zM683 141h1v1h-1zM683 149h1v1h-1zM694 141h1v1h-1zM694 149h1v1h-1zM704 141h1v1h-1zM704 149h1v1h-1zM714 141h1v1h-1zM714 149h1v1h-1zM724 141h1v1h-1zM724 149h1v1h-1zM734 141h1v1h-1zM734 149h1v1h-1zM745 142h1v1h-1zM745 150h1v1h-1zM755 381h1v1h-1zM755 389h1v1h-1zM765 388h1v1h-1zM765 396h1v1h-1zM775 416h1v1h-1zM775 424h1v1h-1zM786 518h1v1h-1zM786 526h1v1h-1zM796 648h1v1h-1zM796 656h1v1h-1zM806 716h1v1h-1zM806 724h1v1h-1zM816 740h1v1h-1zM816 748h1v1h-1zM826 759h1v1h-1zM826 767h1v1h-1zM837 784h1v1h-1zM837 792h1v1h-1zM847 811h1v1h-1zM847 819h1v1h-1zM857 838h1v1h-1zM857 846h1v1h-1zM867 860h1v1h-1zM867 868h1v1h-1zM877 875h1v1h-1zM877 883h1v1h-1zM888 883h1v1h-1zM888 891h1v1h-1zM898 888h1v1h-1zM898 896h1v1h-1zM908 890h1v1h-1zM908 898h1v1h-1zM918 891h1v1h-1zM918 899h1v1h-1zM928 892h1v1h-1zM928 900h1v1h-1zM939 892h1v1h-1zM939 900h1v1h-1zM949 892h1v1h-1zM949 900h1v1h-1zM959 892h1v1h-1zM959 900h1v1h-1zM969 892h1v1h-1zM969 900h1v1h-1zM979 892h1v1h-1zM979 900h1v1h-1zM990 892h1v1h-1zM990 900h1v1h-1zM1000 892h1v1h-1zM1000 900h1v1h-1zM1010 892h1v1h-1zM1010 900h1v1h-1zM1020 892h1v1h-1zM1020 900h1v1h-1zM1031 892h1v1h-1zM1031 900h1v1h-1zM1041 892h1v1h-1zM1041 900h1v1h-1zM1051 892h1v1h-1zM1051 900h1v1h-1zM1061 892h1v1h-1zM1061 900h1v1h-1zM1071 892h1v1h-1zM1071 900h1v1h-1zM1082 892h1v1h-1zM1082 900h1v1h-1zM1092 892h1v1h-1zM1092 900h1v1h-1zM1102 892h1v1h-1zM1102 900h1v1h-1zM1112 892h1v1h-1zM1112 900h1v1h-1zM1122 892h1v1h-1zM1122 900h1v1h-1z"/></g>
</g>
<g shape-rendering="crispEdges">
<rect x="1026" y="150" width="126" height="3" fill="#000"/>
<rect x="1149" y="105" width="3" height="48" fill="#000"/>
<rect x="1020" y="99" width="129" height="51" fill="#000"/>
<rect x="1021" y="100" width="127" height="49" fill="#f2f2f2"/>
</g>
<g shape-rendering="crispEdges" fill="#0000ff"><path d="M1026 109h3v1h1v1h1v3h-1v1h-1v1h-3v-1h-1v-1h-1v-3h1v-1h1z"/><path fill-opacity="0.36" d="M1029 109h1v1h-1zM1030 110h1v1h-1zM1025 109h1v1h-1zM1024 110h1v1h-1zM1029 115h1v1h-1zM1030 114h1v1h-1zM1025 115h1v1h-1zM1024 114h1v1h-1z"/><path fill-opacity="0.3" d="M1027 108h1v1h-1zM1027 116h1v1h-1z"/></g>
<g shape-rendering="crispEdges" fill="#ff0000"><path d="M1026 133h3v1h1v1h1v3h-1v1h-1v1h-3v-1h-1v-1h-1v-3h1v-1h1z"/><path fill-opacity="0.36" d="M1029 133h1v1h-1zM1030 134h1v1h-1zM1025 133h1v1h-1zM1024 134h1v1h-1zM1029 139h1v1h-1zM1030 138h1v1h-1zM1025 139h1v1h-1zM1024 138h1v1h-1z"/><path fill-opacity="0.3" d="M1027 132h1v1h-1zM1027 140h1v1h-1z"/></g>
<text transform="translate(1032.95,117.00) scale(1,1.02)" font-size="19.6" stroke="#000" stroke-width="0.35"><tspan>True</tspan> <tspan x="46.70" style="letter-spacing:-0.42px">Proton</tspan></text>
<text transform="translate(1033.20,142.00) scale(1,1.02)" font-size="19.6" stroke="#000" stroke-width="0.35"><tspan style="letter-spacing:-0.42px">Fake</tspan> <tspan x="48.65" style="letter-spacing:-0.42px">Proton</tspan></text>
<text transform="translate(84.00,42.20) scale(1.0,1.03)" font-size="8.048">Upstream Proton Signal Eff V CombDLLp | MVAout &gt; 0.175 | All NaturalMix AllPhysTracksInEvent:AllPhysTracksInEvent ReweightRICH2 EvalNoPreSel | Train:MixtureNoGhosts-Eval:HeavyGhosts | TMVA-NoPreSels-NoGECs | MLP Norm BP NCycles750 CE tanh SF1.4 CVTest15:1e-16 !UseReg</text>
<text transform="translate(121.70,907.50) scale(1.0,1.1)" font-size="28" text-anchor="end">0</text>
<text transform="translate(121.70,754.50) scale(1.0,1.1)" font-size="28" text-anchor="end">20</text>
<text transform="translate(121.70,601.50) scale(1.0,1.1)" font-size="28" text-anchor="end">40</text>
<text transform="translate(121.70,448.50) scale(1.0,1.1)" font-size="28" text-anchor="end">60</text>
<text transform="translate(121.70,295.50) scale(1.0,1.1)" font-size="28" text-anchor="end">80</text>
<text transform="translate(121.70,142.50) scale(1.0,1.1)" font-size="28" text-anchor="end">100</text>
<text transform="translate(206.80,936.00) scale(1.0,1.1)" font-size="28" text-anchor="middle">-120</text>
<text transform="translate(297.80,936.00) scale(1.0,1.1)" font-size="28" text-anchor="middle">-100</text>
<text transform="translate(388.80,936.00) scale(1.0,1.1)" font-size="28" text-anchor="middle">-80</text>
<text transform="translate(480.80,936.00) scale(1.0,1.1)" font-size="28" text-anchor="middle">-60</text>
<text transform="translate(571.80,936.00) scale(1.0,1.1)" font-size="28" text-anchor="middle">-40</text>
<text transform="translate(662.80,936.00) scale(1.0,1.1)" font-size="28" text-anchor="middle">-20</text>
<text transform="translate(753.80,936.00) scale(1.0,1.1)" font-size="28" text-anchor="middle">0</text>
<text transform="translate(844.80,936.00) scale(1.0,1.1)" font-size="28" text-anchor="middle">20</text>
<text transform="translate(935.80,936.00) scale(1.0,1.1)" font-size="28" text-anchor="middle">40</text>
<text transform="translate(1026.80,936.00) scale(1.0,1.1)" font-size="28" text-anchor="middle">60</text>
<text transform="translate(1118.80,936.00) scale(1.0,1.1)" font-size="28" text-anchor="middle">80</text>
<text transform="translate(1148.50,971.00) scale(1.0,1.05)" font-size="28.03" text-anchor="end">Upstream Proton CombDLLp cut value</text>
<text transform="translate(48.20,98.60) rotate(-90) scale(1.0,1.03)" font-size="27.95" text-anchor="end">Efficiency / %</text>
</svg></body></html>
